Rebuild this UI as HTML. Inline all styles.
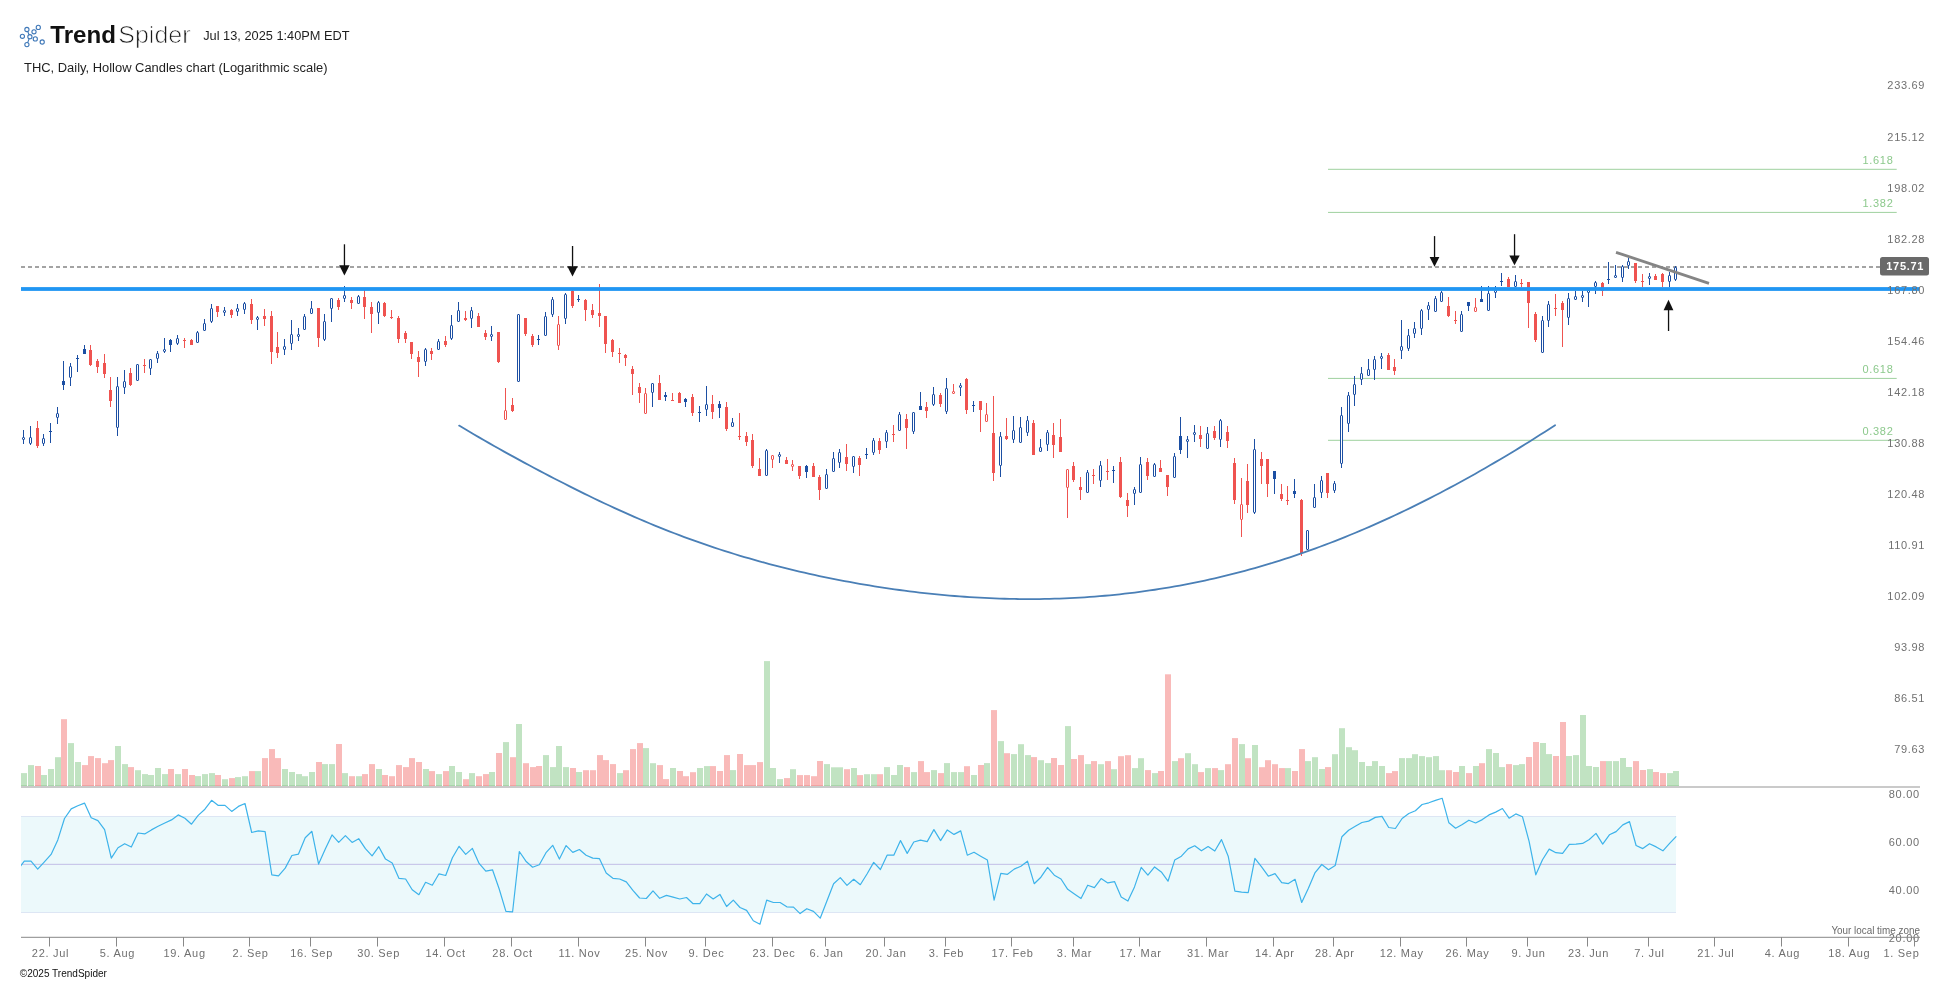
<!DOCTYPE html>
<html><head><meta charset="utf-8"><title>THC Daily - TrendSpider</title>
<style>html,body{margin:0;padding:0;background:#fff;width:1950px;height:983px;overflow:hidden}svg{display:block;will-change:transform}</style>
</head><body><svg width="1950" height="983" viewBox="0 0 1950 983" font-family='"Liberation Sans", sans-serif'><rect x="1328" y="168.8" width="568.7" height="1" fill="#9fd19f"/><rect x="1328" y="211.9" width="568.7" height="1" fill="#9fd19f"/><rect x="1328" y="377.9" width="568.7" height="1" fill="#9fd19f"/><rect x="1328" y="439.8" width="568.7" height="1" fill="#9fd19f"/><line x1="21" y1="267" x2="1880" y2="267" stroke="#a3a3a3" stroke-width="2" stroke-dasharray="4 3"/><rect x="23" y="430" width="1" height="14" fill="#1c4fa3"/><rect x="22.5" y="437.5" width="2" height="2" fill="#fff" stroke="#1c4fa3" stroke-width="1" rx="0.5"/><rect x="30" y="426" width="1" height="19" fill="#1c4fa3"/><rect x="29.5" y="437.5" width="2" height="6" fill="#fff" stroke="#1c4fa3" stroke-width="1" rx="0.5"/><rect x="37" y="421" width="1" height="27" fill="#ef5350"/><rect x="36" y="428" width="3" height="18" fill="#ef5350"/><rect x="43" y="434" width="1" height="12" fill="#1c4fa3"/><rect x="42.5" y="438.5" width="2" height="5" fill="#fff" stroke="#1c4fa3" stroke-width="1" rx="0.5"/><rect x="50" y="423" width="1" height="20" fill="#1c4fa3"/><rect x="49" y="431" width="3" height="1" fill="#1c4fa3"/><rect x="57" y="407" width="1" height="17" fill="#1c4fa3"/><rect x="56.5" y="413.5" width="2" height="4" fill="#fff" stroke="#1c4fa3" stroke-width="1" rx="0.5"/><rect x="63" y="361" width="1" height="29" fill="#1c4fa3"/><rect x="62" y="381" width="3" height="4" fill="#1c4fa3"/><rect x="70" y="363" width="1" height="23" fill="#1c4fa3"/><rect x="69.5" y="366.5" width="2" height="11" fill="#fff" stroke="#1c4fa3" stroke-width="1" rx="0.5"/><rect x="77" y="355" width="1" height="17" fill="#1c4fa3"/><rect x="76" y="358" width="3" height="1" fill="#1c4fa3"/><rect x="84" y="345" width="1" height="9" fill="#1c4fa3"/><rect x="83" y="349" width="3" height="5" fill="#1c4fa3"/><rect x="90" y="345" width="1" height="21" fill="#ef5350"/><rect x="89" y="350" width="3" height="15" fill="#ef5350"/><rect x="97" y="359" width="1" height="14" fill="#ef5350"/><rect x="96" y="361" width="3" height="6" fill="#ef5350"/><rect x="104" y="354" width="1" height="24" fill="#ef5350"/><rect x="103" y="363" width="3" height="11" fill="#ef5350"/><rect x="110" y="377" width="1" height="30" fill="#ef5350"/><rect x="109" y="390" width="3" height="11" fill="#ef5350"/><rect x="117" y="377" width="1" height="59" fill="#1c4fa3"/><rect x="116.5" y="386.5" width="2" height="41" fill="#fff" stroke="#1c4fa3" stroke-width="1" rx="0.5"/><rect x="124" y="370" width="1" height="24" fill="#1c4fa3"/><rect x="123.5" y="381.5" width="2" height="6" fill="#fff" stroke="#1c4fa3" stroke-width="1" rx="0.5"/><rect x="130" y="368" width="1" height="18" fill="#ef5350"/><rect x="129" y="373" width="3" height="12" fill="#ef5350"/><rect x="137" y="364" width="1" height="17" fill="#1c4fa3"/><rect x="136.5" y="364.5" width="2" height="16" fill="#fff" stroke="#1c4fa3" stroke-width="1" rx="0.5"/><rect x="144" y="359" width="1" height="14" fill="#ef5350"/><rect x="143" y="365" width="3" height="1" fill="#ef5350"/><rect x="150" y="359" width="1" height="16" fill="#1c4fa3"/><rect x="149.5" y="359.5" width="2" height="9" fill="#fff" stroke="#1c4fa3" stroke-width="1" rx="0.5"/><rect x="157" y="351" width="1" height="12" fill="#1c4fa3"/><rect x="156.5" y="353.5" width="2" height="5" fill="#fff" stroke="#1c4fa3" stroke-width="1" rx="0.5"/><rect x="164" y="338" width="1" height="15" fill="#1c4fa3"/><rect x="163.5" y="349.5" width="2" height="2" fill="#fff" stroke="#1c4fa3" stroke-width="1" rx="0.5"/><rect x="170" y="339" width="1" height="13" fill="#1c4fa3"/><rect x="169" y="340" width="3" height="5" fill="#1c4fa3"/><rect x="177" y="335" width="1" height="10" fill="#1c4fa3"/><rect x="176.5" y="338.5" width="2" height="5" fill="#fff" stroke="#1c4fa3" stroke-width="1" rx="0.5"/><rect x="184" y="338" width="1" height="10" fill="#ef5350"/><rect x="183" y="340" width="3" height="1" fill="#ef5350"/><rect x="191" y="339" width="1" height="6" fill="#ef5350"/><rect x="190" y="340" width="3" height="5" fill="#ef5350"/><rect x="197" y="331" width="1" height="12" fill="#1c4fa3"/><rect x="196.5" y="332.5" width="2" height="10" fill="#fff" stroke="#1c4fa3" stroke-width="1" rx="0.5"/><rect x="204" y="319" width="1" height="12" fill="#1c4fa3"/><rect x="203.5" y="323.5" width="2" height="7" fill="#fff" stroke="#1c4fa3" stroke-width="1" rx="0.5"/><rect x="211" y="304" width="1" height="19" fill="#1c4fa3"/><rect x="210.5" y="308.5" width="2" height="13" fill="#fff" stroke="#1c4fa3" stroke-width="1" rx="0.5"/><rect x="217" y="306" width="1" height="11" fill="#ef5350"/><rect x="216" y="306" width="3" height="6" fill="#ef5350"/><rect x="224" y="307" width="1" height="9" fill="#1c4fa3"/><rect x="223.5" y="310.5" width="2" height="2" fill="#fff" stroke="#1c4fa3" stroke-width="1" rx="0.5"/><rect x="231" y="309" width="1" height="9" fill="#ef5350"/><rect x="230" y="310" width="3" height="5" fill="#ef5350"/><rect x="237" y="304" width="1" height="12" fill="#1c4fa3"/><rect x="236.5" y="308.5" width="2" height="3" fill="#fff" stroke="#1c4fa3" stroke-width="1" rx="0.5"/><rect x="244" y="302" width="1" height="12" fill="#1c4fa3"/><rect x="243.5" y="303.5" width="2" height="6" fill="#fff" stroke="#1c4fa3" stroke-width="1" rx="0.5"/><rect x="251" y="299" width="1" height="25" fill="#ef5350"/><rect x="250" y="304" width="3" height="16" fill="#ef5350"/><rect x="257" y="316" width="1" height="14" fill="#1c4fa3"/><rect x="256.5" y="317.5" width="2" height="2" fill="#fff" stroke="#1c4fa3" stroke-width="1" rx="0.5"/><rect x="264" y="309" width="1" height="17" fill="#ef5350"/><rect x="263" y="316" width="3" height="3" fill="#ef5350"/><rect x="271" y="311" width="1" height="53" fill="#ef5350"/><rect x="270" y="316" width="3" height="36" fill="#ef5350"/><rect x="277" y="332" width="1" height="26" fill="#ef5350"/><rect x="276" y="347" width="3" height="6" fill="#ef5350"/><rect x="284" y="339" width="1" height="16" fill="#1c4fa3"/><rect x="283.5" y="346.5" width="2" height="3" fill="#fff" stroke="#1c4fa3" stroke-width="1" rx="0.5"/><rect x="291" y="320" width="1" height="30" fill="#1c4fa3"/><rect x="290.5" y="334.5" width="2" height="9" fill="#fff" stroke="#1c4fa3" stroke-width="1" rx="0.5"/><rect x="298" y="328" width="1" height="13" fill="#1c4fa3"/><rect x="297.5" y="334.5" width="2" height="2" fill="#fff" stroke="#1c4fa3" stroke-width="1" rx="0.5"/><rect x="304" y="314" width="1" height="16" fill="#1c4fa3"/><rect x="303.5" y="316.5" width="2" height="13" fill="#fff" stroke="#1c4fa3" stroke-width="1" rx="0.5"/><rect x="311" y="301" width="1" height="13" fill="#1c4fa3"/><rect x="310.5" y="308.5" width="2" height="5" fill="#fff" stroke="#1c4fa3" stroke-width="1" rx="0.5"/><rect x="318" y="308" width="1" height="39" fill="#ef5350"/><rect x="317" y="308" width="3" height="30" fill="#ef5350"/><rect x="324" y="314" width="1" height="27" fill="#1c4fa3"/><rect x="323.5" y="321.5" width="2" height="18" fill="#fff" stroke="#1c4fa3" stroke-width="1" rx="0.5"/><rect x="331" y="298" width="1" height="24" fill="#1c4fa3"/><rect x="330.5" y="298.5" width="2" height="10" fill="#fff" stroke="#1c4fa3" stroke-width="1" rx="0.5"/><rect x="338" y="298" width="1" height="12" fill="#ef5350"/><rect x="337" y="300" width="3" height="7" fill="#ef5350"/><rect x="344" y="286" width="1" height="16" fill="#1c4fa3"/><rect x="343.5" y="295.5" width="2" height="3" fill="#fff" stroke="#1c4fa3" stroke-width="1" rx="0.5"/><rect x="351" y="297" width="1" height="12" fill="#ef5350"/><rect x="350" y="300" width="3" height="3" fill="#ef5350"/><rect x="358" y="295" width="1" height="9" fill="#1c4fa3"/><rect x="357.5" y="296.5" width="2" height="7" fill="#fff" stroke="#1c4fa3" stroke-width="1" rx="0.5"/><rect x="364" y="290" width="1" height="29" fill="#ef5350"/><rect x="363" y="297" width="3" height="10" fill="#ef5350"/><rect x="371" y="302" width="1" height="31" fill="#ef5350"/><rect x="370" y="307" width="3" height="7" fill="#ef5350"/><rect x="378" y="301" width="1" height="23" fill="#1c4fa3"/><rect x="377.5" y="302.5" width="2" height="10" fill="#fff" stroke="#1c4fa3" stroke-width="1" rx="0.5"/><rect x="384" y="302" width="1" height="15" fill="#ef5350"/><rect x="383" y="303" width="3" height="13" fill="#ef5350"/><rect x="391" y="310" width="1" height="9" fill="#ef5350"/><rect x="390" y="317" width="3" height="1" fill="#ef5350"/><rect x="398" y="316" width="1" height="27" fill="#ef5350"/><rect x="397" y="318" width="3" height="21" fill="#ef5350"/><rect x="405" y="331" width="1" height="12" fill="#ef5350"/><rect x="404" y="333" width="3" height="6" fill="#ef5350"/><rect x="411" y="342" width="1" height="17" fill="#ef5350"/><rect x="410" y="342" width="3" height="12" fill="#ef5350"/><rect x="418" y="351" width="1" height="26" fill="#ef5350"/><rect x="417" y="357" width="3" height="5" fill="#ef5350"/><rect x="425" y="348" width="1" height="18" fill="#1c4fa3"/><rect x="424.5" y="349.5" width="2" height="12" fill="#fff" stroke="#1c4fa3" stroke-width="1" rx="0.5"/><rect x="431" y="348" width="1" height="12" fill="#ef5350"/><rect x="430" y="351" width="3" height="3" fill="#ef5350"/><rect x="438" y="339" width="1" height="11" fill="#1c4fa3"/><rect x="437.5" y="341.5" width="2" height="8" fill="#fff" stroke="#1c4fa3" stroke-width="1" rx="0.5"/><rect x="445" y="336" width="1" height="11" fill="#ef5350"/><rect x="444" y="341" width="3" height="4" fill="#ef5350"/><rect x="451" y="315" width="1" height="25" fill="#1c4fa3"/><rect x="450.5" y="325.5" width="2" height="13" fill="#fff" stroke="#1c4fa3" stroke-width="1" rx="0.5"/><rect x="458" y="302" width="1" height="20" fill="#1c4fa3"/><rect x="457.5" y="310.5" width="2" height="11" fill="#fff" stroke="#1c4fa3" stroke-width="1" rx="0.5"/><rect x="465" y="311" width="1" height="10" fill="#ef5350"/><rect x="464" y="318" width="3" height="2" fill="#ef5350"/><rect x="471" y="307" width="1" height="21" fill="#1c4fa3"/><rect x="470.5" y="310.5" width="2" height="8" fill="#fff" stroke="#1c4fa3" stroke-width="1" rx="0.5"/><rect x="478" y="313" width="1" height="14" fill="#ef5350"/><rect x="477" y="316" width="3" height="11" fill="#ef5350"/><rect x="485" y="330" width="1" height="10" fill="#ef5350"/><rect x="484" y="333" width="3" height="4" fill="#ef5350"/><rect x="491" y="326" width="1" height="15" fill="#1c4fa3"/><rect x="490.5" y="334.5" width="2" height="2" fill="#fff" stroke="#1c4fa3" stroke-width="1" rx="0.5"/><rect x="498" y="332" width="1" height="31" fill="#ef5350"/><rect x="497" y="332" width="3" height="30" fill="#ef5350"/><rect x="505" y="388" width="1" height="32" fill="#ef5350"/><rect x="504.5" y="410.5" width="2" height="9" fill="#fff" stroke="#ef5350" stroke-width="1" rx="0.5"/><rect x="512" y="398" width="1" height="14" fill="#ef5350"/><rect x="511" y="405" width="3" height="6" fill="#ef5350"/><rect x="518" y="314" width="1" height="68" fill="#1c4fa3"/><rect x="517.5" y="314.5" width="2" height="67" fill="#fff" stroke="#1c4fa3" stroke-width="1" rx="0.5"/><rect x="525" y="318" width="1" height="18" fill="#ef5350"/><rect x="524" y="318" width="3" height="16" fill="#ef5350"/><rect x="532" y="334" width="1" height="13" fill="#ef5350"/><rect x="531" y="336" width="3" height="9" fill="#ef5350"/><rect x="538" y="335" width="1" height="10" fill="#1c4fa3"/><rect x="537" y="339" width="3" height="1" fill="#1c4fa3"/><rect x="545" y="312" width="1" height="24" fill="#1c4fa3"/><rect x="544.5" y="316.5" width="2" height="19" fill="#fff" stroke="#1c4fa3" stroke-width="1" rx="0.5"/><rect x="552" y="297" width="1" height="20" fill="#1c4fa3"/><rect x="551.5" y="299.5" width="2" height="15" fill="#fff" stroke="#1c4fa3" stroke-width="1" rx="0.5"/><rect x="558" y="316" width="1" height="34" fill="#ef5350"/><rect x="557.5" y="324.5" width="2" height="21" fill="#fff" stroke="#ef5350" stroke-width="1" rx="0.5"/><rect x="565" y="293" width="1" height="31" fill="#1c4fa3"/><rect x="564.5" y="294.5" width="2" height="24" fill="#fff" stroke="#1c4fa3" stroke-width="1" rx="0.5"/><rect x="572" y="289" width="1" height="19" fill="#ef5350"/><rect x="571" y="291" width="3" height="15" fill="#ef5350"/><rect x="578" y="295" width="1" height="7" fill="#1c4fa3"/><rect x="577" y="299" width="3" height="1" fill="#1c4fa3"/><rect x="585" y="299" width="1" height="22" fill="#ef5350"/><rect x="584" y="300" width="3" height="10" fill="#ef5350"/><rect x="592" y="304" width="1" height="14" fill="#ef5350"/><rect x="591" y="310" width="3" height="5" fill="#ef5350"/><rect x="599" y="284" width="1" height="43" fill="#ef5350"/><rect x="598" y="313" width="3" height="3" fill="#ef5350"/><rect x="605" y="316" width="1" height="37" fill="#ef5350"/><rect x="604" y="316" width="3" height="28" fill="#ef5350"/><rect x="612" y="339" width="1" height="18" fill="#ef5350"/><rect x="611" y="340" width="3" height="12" fill="#ef5350"/><rect x="619" y="348" width="1" height="15" fill="#ef5350"/><rect x="618" y="353" width="3" height="1" fill="#ef5350"/><rect x="625" y="354" width="1" height="12" fill="#ef5350"/><rect x="624" y="355" width="3" height="3" fill="#ef5350"/><rect x="632" y="366" width="1" height="29" fill="#ef5350"/><rect x="631" y="369" width="3" height="5" fill="#ef5350"/><rect x="639" y="383" width="1" height="20" fill="#ef5350"/><rect x="638" y="387" width="3" height="6" fill="#ef5350"/><rect x="645" y="388" width="1" height="26" fill="#ef5350"/><rect x="644.5" y="393.5" width="2" height="20" fill="#fff" stroke="#ef5350" stroke-width="1" rx="0.5"/><rect x="652" y="383" width="1" height="24" fill="#1c4fa3"/><rect x="651.5" y="383.5" width="2" height="9" fill="#fff" stroke="#1c4fa3" stroke-width="1" rx="0.5"/><rect x="659" y="375" width="1" height="25" fill="#ef5350"/><rect x="658" y="383" width="3" height="17" fill="#ef5350"/><rect x="665" y="392" width="1" height="9" fill="#1c4fa3"/><rect x="664" y="395" width="3" height="2" fill="#1c4fa3"/><rect x="672" y="393" width="1" height="8" fill="#ef5350"/><rect x="671" y="400" width="3" height="1" fill="#ef5350"/><rect x="679" y="392" width="1" height="11" fill="#ef5350"/><rect x="678" y="393" width="3" height="10" fill="#ef5350"/><rect x="685" y="398" width="1" height="9" fill="#1c4fa3"/><rect x="684" y="399" width="3" height="3" fill="#1c4fa3"/><rect x="692" y="394" width="1" height="22" fill="#ef5350"/><rect x="691" y="397" width="3" height="16" fill="#ef5350"/><rect x="699" y="406" width="1" height="16" fill="#1c4fa3"/><rect x="698" y="412" width="3" height="1" fill="#1c4fa3"/><rect x="706" y="386" width="1" height="30" fill="#1c4fa3"/><rect x="705.5" y="404.5" width="2" height="5" fill="#fff" stroke="#1c4fa3" stroke-width="1" rx="0.5"/><rect x="712" y="395" width="1" height="24" fill="#ef5350"/><rect x="711" y="404" width="3" height="8" fill="#ef5350"/><rect x="719" y="401" width="1" height="17" fill="#1c4fa3"/><rect x="718" y="404" width="3" height="4" fill="#1c4fa3"/><rect x="726" y="402" width="1" height="29" fill="#ef5350"/><rect x="725" y="407" width="3" height="22" fill="#ef5350"/><rect x="732" y="418" width="1" height="9" fill="#1c4fa3"/><rect x="731.5" y="422.5" width="2" height="4" fill="#fff" stroke="#1c4fa3" stroke-width="1" rx="0.5"/><rect x="739" y="413" width="1" height="27" fill="#ef5350"/><rect x="738" y="436" width="3" height="1" fill="#ef5350"/><rect x="746" y="432" width="1" height="14" fill="#ef5350"/><rect x="745" y="436" width="3" height="6" fill="#ef5350"/><rect x="752" y="434" width="1" height="34" fill="#ef5350"/><rect x="751" y="440" width="3" height="26" fill="#ef5350"/><rect x="759" y="458" width="1" height="18" fill="#ef5350"/><rect x="758" y="469" width="3" height="7" fill="#ef5350"/><rect x="766" y="449" width="1" height="27" fill="#1c4fa3"/><rect x="765.5" y="450.5" width="2" height="25" fill="#fff" stroke="#1c4fa3" stroke-width="1" rx="0.5"/><rect x="772" y="455" width="1" height="13" fill="#ef5350"/><rect x="771.5" y="455.5" width="2" height="4" fill="#fff" stroke="#ef5350" stroke-width="1" rx="0.5"/><rect x="779" y="452" width="1" height="11" fill="#1c4fa3"/><rect x="778.5" y="454.5" width="2" height="2" fill="#fff" stroke="#1c4fa3" stroke-width="1" rx="0.5"/><rect x="786" y="457" width="1" height="7" fill="#ef5350"/><rect x="785" y="460" width="3" height="4" fill="#ef5350"/><rect x="792" y="460" width="1" height="11" fill="#ef5350"/><rect x="791.5" y="464.5" width="2" height="2" fill="#fff" stroke="#ef5350" stroke-width="1" rx="0.5"/><rect x="799" y="466" width="1" height="13" fill="#ef5350"/><rect x="798" y="466" width="3" height="10" fill="#ef5350"/><rect x="806" y="465" width="1" height="13" fill="#1c4fa3"/><rect x="805" y="466" width="3" height="6" fill="#1c4fa3"/><rect x="813" y="463" width="1" height="14" fill="#ef5350"/><rect x="812" y="466" width="3" height="11" fill="#ef5350"/><rect x="819" y="475" width="1" height="25" fill="#ef5350"/><rect x="818" y="477" width="3" height="13" fill="#ef5350"/><rect x="826" y="469" width="1" height="20" fill="#1c4fa3"/><rect x="825.5" y="474.5" width="2" height="14" fill="#fff" stroke="#1c4fa3" stroke-width="1" rx="0.5"/><rect x="833" y="452" width="1" height="20" fill="#1c4fa3"/><rect x="832.5" y="458.5" width="2" height="13" fill="#fff" stroke="#1c4fa3" stroke-width="1" rx="0.5"/><rect x="839" y="449" width="1" height="19" fill="#1c4fa3"/><rect x="838.5" y="452.5" width="2" height="10" fill="#fff" stroke="#1c4fa3" stroke-width="1" rx="0.5"/><rect x="846" y="444" width="1" height="27" fill="#ef5350"/><rect x="845" y="457" width="3" height="7" fill="#ef5350"/><rect x="853" y="456" width="1" height="17" fill="#1c4fa3"/><rect x="852.5" y="456.5" width="2" height="10" fill="#fff" stroke="#1c4fa3" stroke-width="1" rx="0.5"/><rect x="859" y="456" width="1" height="20" fill="#ef5350"/><rect x="858" y="458" width="3" height="7" fill="#ef5350"/><rect x="866" y="448" width="1" height="11" fill="#1c4fa3"/><rect x="865" y="454" width="3" height="1" fill="#1c4fa3"/><rect x="873" y="438" width="1" height="17" fill="#1c4fa3"/><rect x="872.5" y="440.5" width="2" height="12" fill="#fff" stroke="#1c4fa3" stroke-width="1" rx="0.5"/><rect x="879" y="438" width="1" height="16" fill="#ef5350"/><rect x="878" y="441" width="3" height="9" fill="#ef5350"/><rect x="886" y="430" width="1" height="18" fill="#1c4fa3"/><rect x="885.5" y="432.5" width="2" height="9" fill="#fff" stroke="#1c4fa3" stroke-width="1" rx="0.5"/><rect x="893" y="425" width="1" height="17" fill="#ef5350"/><rect x="892" y="434" width="3" height="1" fill="#ef5350"/><rect x="899" y="412" width="1" height="19" fill="#1c4fa3"/><rect x="898.5" y="414.5" width="2" height="16" fill="#fff" stroke="#1c4fa3" stroke-width="1" rx="0.5"/><rect x="906" y="414" width="1" height="35" fill="#ef5350"/><rect x="905" y="419" width="3" height="9" fill="#ef5350"/><rect x="913" y="412" width="1" height="22" fill="#1c4fa3"/><rect x="912.5" y="412.5" width="2" height="19" fill="#fff" stroke="#1c4fa3" stroke-width="1" rx="0.5"/><rect x="920" y="392" width="1" height="18" fill="#1c4fa3"/><rect x="919" y="406" width="3" height="4" fill="#1c4fa3"/><rect x="926" y="402" width="1" height="16" fill="#ef5350"/><rect x="925" y="407" width="3" height="4" fill="#ef5350"/><rect x="933" y="387" width="1" height="19" fill="#1c4fa3"/><rect x="932.5" y="394.5" width="2" height="10" fill="#fff" stroke="#1c4fa3" stroke-width="1" rx="0.5"/><rect x="940" y="393" width="1" height="14" fill="#ef5350"/><rect x="939" y="395" width="3" height="9" fill="#ef5350"/><rect x="946" y="378" width="1" height="36" fill="#1c4fa3"/><rect x="945.5" y="388.5" width="2" height="23" fill="#fff" stroke="#1c4fa3" stroke-width="1" rx="0.5"/><rect x="953" y="384" width="1" height="9" fill="#ef5350"/><rect x="952.5" y="391.5" width="2" height="2" fill="#fff" stroke="#ef5350" stroke-width="1" rx="0.5"/><rect x="960" y="383" width="1" height="13" fill="#1c4fa3"/><rect x="959.5" y="385.5" width="2" height="2" fill="#fff" stroke="#1c4fa3" stroke-width="1" rx="0.5"/><rect x="966" y="378" width="1" height="36" fill="#ef5350"/><rect x="965" y="379" width="3" height="31" fill="#ef5350"/><rect x="973" y="401" width="1" height="11" fill="#1c4fa3"/><rect x="972" y="405" width="3" height="1" fill="#1c4fa3"/><rect x="980" y="401" width="1" height="31" fill="#ef5350"/><rect x="979" y="401" width="3" height="9" fill="#ef5350"/><rect x="986" y="403" width="1" height="19" fill="#ef5350"/><rect x="985.5" y="414.5" width="2" height="7" fill="#fff" stroke="#ef5350" stroke-width="1" rx="0.5"/><rect x="993" y="396" width="1" height="85" fill="#ef5350"/><rect x="992" y="433" width="3" height="40" fill="#ef5350"/><rect x="1000" y="432" width="1" height="45" fill="#1c4fa3"/><rect x="999.5" y="436.5" width="2" height="29" fill="#fff" stroke="#1c4fa3" stroke-width="1" rx="0.5"/><rect x="1006" y="418" width="1" height="22" fill="#ef5350"/><rect x="1005" y="436" width="3" height="3" fill="#ef5350"/><rect x="1013" y="416" width="1" height="27" fill="#1c4fa3"/><rect x="1012.5" y="430.5" width="2" height="9" fill="#fff" stroke="#1c4fa3" stroke-width="1" rx="0.5"/><rect x="1020" y="417" width="1" height="26" fill="#1c4fa3"/><rect x="1019.5" y="427.5" width="2" height="15" fill="#fff" stroke="#1c4fa3" stroke-width="1" rx="0.5"/><rect x="1027" y="416" width="1" height="20" fill="#1c4fa3"/><rect x="1026.5" y="420.5" width="2" height="12" fill="#fff" stroke="#1c4fa3" stroke-width="1" rx="0.5"/><rect x="1033" y="420" width="1" height="35" fill="#ef5350"/><rect x="1032" y="423" width="3" height="32" fill="#ef5350"/><rect x="1040" y="439" width="1" height="13" fill="#1c4fa3"/><rect x="1039.5" y="447.5" width="2" height="4" fill="#fff" stroke="#1c4fa3" stroke-width="1" rx="0.5"/><rect x="1047" y="430" width="1" height="21" fill="#1c4fa3"/><rect x="1046.5" y="432.5" width="2" height="12" fill="#fff" stroke="#1c4fa3" stroke-width="1" rx="0.5"/><rect x="1053" y="423" width="1" height="35" fill="#ef5350"/><rect x="1052" y="435" width="3" height="10" fill="#ef5350"/><rect x="1060" y="419" width="1" height="33" fill="#ef5350"/><rect x="1059" y="437" width="3" height="15" fill="#ef5350"/><rect x="1067" y="469" width="1" height="49" fill="#ef5350"/><rect x="1066.5" y="469.5" width="2" height="18" fill="#fff" stroke="#ef5350" stroke-width="1" rx="0.5"/><rect x="1073" y="462" width="1" height="20" fill="#ef5350"/><rect x="1072" y="466" width="3" height="14" fill="#ef5350"/><rect x="1080" y="477" width="1" height="23" fill="#ef5350"/><rect x="1079" y="487" width="3" height="3" fill="#ef5350"/><rect x="1087" y="470" width="1" height="23" fill="#1c4fa3"/><rect x="1086.5" y="472.5" width="2" height="20" fill="#fff" stroke="#1c4fa3" stroke-width="1" rx="0.5"/><rect x="1093" y="469" width="1" height="15" fill="#ef5350"/><rect x="1092" y="475" width="3" height="1" fill="#ef5350"/><rect x="1100" y="461" width="1" height="26" fill="#1c4fa3"/><rect x="1099.5" y="465.5" width="2" height="15" fill="#fff" stroke="#1c4fa3" stroke-width="1" rx="0.5"/><rect x="1107" y="459" width="1" height="21" fill="#ef5350"/><rect x="1106" y="471" width="3" height="1" fill="#ef5350"/><rect x="1113" y="466" width="1" height="17" fill="#1c4fa3"/><rect x="1112" y="470" width="3" height="1" fill="#1c4fa3"/><rect x="1120" y="457" width="1" height="41" fill="#ef5350"/><rect x="1119" y="462" width="3" height="35" fill="#ef5350"/><rect x="1127" y="493" width="1" height="24" fill="#ef5350"/><rect x="1126" y="500" width="3" height="6" fill="#ef5350"/><rect x="1134" y="487" width="1" height="18" fill="#1c4fa3"/><rect x="1133.5" y="489.5" width="2" height="4" fill="#fff" stroke="#1c4fa3" stroke-width="1" rx="0.5"/><rect x="1140" y="457" width="1" height="36" fill="#1c4fa3"/><rect x="1139.5" y="464.5" width="2" height="28" fill="#fff" stroke="#1c4fa3" stroke-width="1" rx="0.5"/><rect x="1147" y="458" width="1" height="22" fill="#ef5350"/><rect x="1146" y="462" width="3" height="14" fill="#ef5350"/><rect x="1154" y="463" width="1" height="14" fill="#1c4fa3"/><rect x="1153.5" y="464.5" width="2" height="12" fill="#fff" stroke="#1c4fa3" stroke-width="1" rx="0.5"/><rect x="1160" y="460" width="1" height="12" fill="#ef5350"/><rect x="1159" y="468" width="3" height="4" fill="#ef5350"/><rect x="1167" y="475" width="1" height="21" fill="#ef5350"/><rect x="1166" y="475" width="3" height="12" fill="#ef5350"/><rect x="1174" y="453" width="1" height="25" fill="#1c4fa3"/><rect x="1173.5" y="456.5" width="2" height="21" fill="#fff" stroke="#1c4fa3" stroke-width="1" rx="0.5"/><rect x="1180" y="417" width="1" height="37" fill="#1c4fa3"/><rect x="1179" y="436" width="3" height="14" fill="#1c4fa3"/><rect x="1187" y="436" width="1" height="22" fill="#1c4fa3"/><rect x="1186.5" y="439.5" width="2" height="2" fill="#fff" stroke="#1c4fa3" stroke-width="1" rx="0.5"/><rect x="1194" y="425" width="1" height="17" fill="#1c4fa3"/><rect x="1193.5" y="432.5" width="2" height="2" fill="#fff" stroke="#1c4fa3" stroke-width="1" rx="0.5"/><rect x="1200" y="426" width="1" height="21" fill="#ef5350"/><rect x="1199" y="435" width="3" height="4" fill="#ef5350"/><rect x="1207" y="427" width="1" height="22" fill="#1c4fa3"/><rect x="1206.5" y="433.5" width="2" height="15" fill="#fff" stroke="#1c4fa3" stroke-width="1" rx="0.5"/><rect x="1214" y="426" width="1" height="14" fill="#ef5350"/><rect x="1213" y="431" width="3" height="7" fill="#ef5350"/><rect x="1220" y="419" width="1" height="28" fill="#1c4fa3"/><rect x="1219.5" y="420.5" width="2" height="19" fill="#fff" stroke="#1c4fa3" stroke-width="1" rx="0.5"/><rect x="1227" y="426" width="1" height="22" fill="#ef5350"/><rect x="1226" y="432" width="3" height="9" fill="#ef5350"/><rect x="1234" y="458" width="1" height="46" fill="#ef5350"/><rect x="1233" y="463" width="3" height="37" fill="#ef5350"/><rect x="1241" y="478" width="1" height="59" fill="#ef5350"/><rect x="1240.5" y="504.5" width="2" height="15" fill="#fff" stroke="#ef5350" stroke-width="1" rx="0.5"/><rect x="1247" y="464" width="1" height="49" fill="#ef5350"/><rect x="1246" y="481" width="3" height="24" fill="#ef5350"/><rect x="1254" y="439" width="1" height="75" fill="#1c4fa3"/><rect x="1253.5" y="449.5" width="2" height="63" fill="#fff" stroke="#1c4fa3" stroke-width="1" rx="0.5"/><rect x="1261" y="452" width="1" height="32" fill="#ef5350"/><rect x="1260" y="459" width="3" height="7" fill="#ef5350"/><rect x="1267" y="459" width="1" height="38" fill="#ef5350"/><rect x="1266" y="459" width="3" height="25" fill="#ef5350"/><rect x="1274" y="471" width="1" height="23" fill="#1c4fa3"/><rect x="1273" y="471" width="3" height="8" fill="#1c4fa3"/><rect x="1281" y="484" width="1" height="17" fill="#ef5350"/><rect x="1280" y="494" width="3" height="5" fill="#ef5350"/><rect x="1287" y="486" width="1" height="19" fill="#ef5350"/><rect x="1286" y="500" width="3" height="1" fill="#ef5350"/><rect x="1294" y="479" width="1" height="19" fill="#1c4fa3"/><rect x="1293" y="491" width="3" height="3" fill="#1c4fa3"/><rect x="1301" y="499" width="1" height="57" fill="#ef5350"/><rect x="1300" y="500" width="3" height="53" fill="#ef5350"/><rect x="1307" y="530" width="1" height="20" fill="#1c4fa3"/><rect x="1306.5" y="530.5" width="2" height="19" fill="#fff" stroke="#1c4fa3" stroke-width="1" rx="0.5"/><rect x="1314" y="484" width="1" height="24" fill="#1c4fa3"/><rect x="1313.5" y="497.5" width="2" height="10" fill="#fff" stroke="#1c4fa3" stroke-width="1" rx="0.5"/><rect x="1321" y="476" width="1" height="22" fill="#1c4fa3"/><rect x="1320.5" y="480.5" width="2" height="12" fill="#fff" stroke="#1c4fa3" stroke-width="1" rx="0.5"/><rect x="1327" y="473" width="1" height="25" fill="#ef5350"/><rect x="1326" y="473" width="3" height="20" fill="#ef5350"/><rect x="1334" y="481" width="1" height="12" fill="#1c4fa3"/><rect x="1333.5" y="483.5" width="2" height="7" fill="#fff" stroke="#1c4fa3" stroke-width="1" rx="0.5"/><rect x="1341" y="407" width="1" height="61" fill="#1c4fa3"/><rect x="1340.5" y="415.5" width="2" height="48" fill="#fff" stroke="#1c4fa3" stroke-width="1" rx="0.5"/><rect x="1348" y="392" width="1" height="40" fill="#1c4fa3"/><rect x="1347.5" y="395.5" width="2" height="28" fill="#fff" stroke="#1c4fa3" stroke-width="1" rx="0.5"/><rect x="1354" y="376" width="1" height="30" fill="#1c4fa3"/><rect x="1353.5" y="384.5" width="2" height="10" fill="#fff" stroke="#1c4fa3" stroke-width="1" rx="0.5"/><rect x="1361" y="367" width="1" height="18" fill="#1c4fa3"/><rect x="1360.5" y="373.5" width="2" height="6" fill="#fff" stroke="#1c4fa3" stroke-width="1" rx="0.5"/><rect x="1368" y="359" width="1" height="17" fill="#1c4fa3"/><rect x="1367.5" y="369.5" width="2" height="6" fill="#fff" stroke="#1c4fa3" stroke-width="1" rx="0.5"/><rect x="1374" y="356" width="1" height="24" fill="#1c4fa3"/><rect x="1373.5" y="359.5" width="2" height="10" fill="#fff" stroke="#1c4fa3" stroke-width="1" rx="0.5"/><rect x="1381" y="353" width="1" height="16" fill="#1c4fa3"/><rect x="1380.5" y="356.5" width="2" height="2" fill="#fff" stroke="#1c4fa3" stroke-width="1" rx="0.5"/><rect x="1388" y="353" width="1" height="17" fill="#ef5350"/><rect x="1387" y="355" width="3" height="15" fill="#ef5350"/><rect x="1394" y="359" width="1" height="16" fill="#ef5350"/><rect x="1393" y="367" width="3" height="4" fill="#ef5350"/><rect x="1401" y="320" width="1" height="39" fill="#1c4fa3"/><rect x="1400.5" y="346.5" width="2" height="4" fill="#fff" stroke="#1c4fa3" stroke-width="1" rx="0.5"/><rect x="1408" y="329" width="1" height="22" fill="#1c4fa3"/><rect x="1407.5" y="335.5" width="2" height="13" fill="#fff" stroke="#1c4fa3" stroke-width="1" rx="0.5"/><rect x="1414" y="322" width="1" height="16" fill="#1c4fa3"/><rect x="1413.5" y="328.5" width="2" height="5" fill="#fff" stroke="#1c4fa3" stroke-width="1" rx="0.5"/><rect x="1421" y="309" width="1" height="26" fill="#1c4fa3"/><rect x="1420.5" y="310.5" width="2" height="18" fill="#fff" stroke="#1c4fa3" stroke-width="1" rx="0.5"/><rect x="1428" y="302" width="1" height="18" fill="#1c4fa3"/><rect x="1427.5" y="305.5" width="2" height="4" fill="#fff" stroke="#1c4fa3" stroke-width="1" rx="0.5"/><rect x="1435" y="296" width="1" height="16" fill="#1c4fa3"/><rect x="1434.5" y="298.5" width="2" height="13" fill="#fff" stroke="#1c4fa3" stroke-width="1" rx="0.5"/><rect x="1441" y="291" width="1" height="11" fill="#1c4fa3"/><rect x="1440.5" y="292.5" width="2" height="9" fill="#fff" stroke="#1c4fa3" stroke-width="1" rx="0.5"/><rect x="1448" y="297" width="1" height="20" fill="#ef5350"/><rect x="1447" y="306" width="3" height="10" fill="#ef5350"/><rect x="1455" y="311" width="1" height="13" fill="#ef5350"/><rect x="1454" y="320" width="3" height="1" fill="#ef5350"/><rect x="1461" y="311" width="1" height="21" fill="#1c4fa3"/><rect x="1460.5" y="314.5" width="2" height="17" fill="#fff" stroke="#1c4fa3" stroke-width="1" rx="0.5"/><rect x="1468" y="302" width="1" height="9" fill="#1c4fa3"/><rect x="1467" y="302" width="3" height="4" fill="#1c4fa3"/><rect x="1475" y="298" width="1" height="14" fill="#ef5350"/><rect x="1474.5" y="307.5" width="2" height="4" fill="#fff" stroke="#ef5350" stroke-width="1" rx="0.5"/><rect x="1481" y="286" width="1" height="16" fill="#1c4fa3"/><rect x="1480" y="299" width="3" height="3" fill="#1c4fa3"/><rect x="1488" y="286" width="1" height="25" fill="#1c4fa3"/><rect x="1487.5" y="293.5" width="2" height="17" fill="#fff" stroke="#1c4fa3" stroke-width="1" rx="0.5"/><rect x="1495" y="286" width="1" height="12" fill="#1c4fa3"/><rect x="1494.5" y="290.5" width="2" height="2" fill="#fff" stroke="#1c4fa3" stroke-width="1" rx="0.5"/><rect x="1501" y="273" width="1" height="13" fill="#1c4fa3"/><rect x="1500" y="281" width="3" height="1" fill="#1c4fa3"/><rect x="1508" y="277" width="1" height="10" fill="#ef5350"/><rect x="1507" y="279" width="3" height="8" fill="#ef5350"/><rect x="1515" y="275" width="1" height="12" fill="#1c4fa3"/><rect x="1514.5" y="281.5" width="2" height="5" fill="#fff" stroke="#1c4fa3" stroke-width="1" rx="0.5"/><rect x="1521" y="279" width="1" height="8" fill="#ef5350"/><rect x="1520" y="283" width="3" height="1" fill="#ef5350"/><rect x="1528" y="282" width="1" height="46" fill="#ef5350"/><rect x="1527" y="282" width="3" height="21" fill="#ef5350"/><rect x="1535" y="312" width="1" height="30" fill="#ef5350"/><rect x="1534" y="314" width="3" height="26" fill="#ef5350"/><rect x="1542" y="316" width="1" height="37" fill="#1c4fa3"/><rect x="1541.5" y="320.5" width="2" height="32" fill="#fff" stroke="#1c4fa3" stroke-width="1" rx="0.5"/><rect x="1548" y="301" width="1" height="26" fill="#1c4fa3"/><rect x="1547.5" y="304.5" width="2" height="16" fill="#fff" stroke="#1c4fa3" stroke-width="1" rx="0.5"/><rect x="1555" y="294" width="1" height="22" fill="#ef5350"/><rect x="1554" y="308" width="3" height="1" fill="#ef5350"/><rect x="1562" y="301" width="1" height="46" fill="#ef5350"/><rect x="1561" y="303" width="3" height="7" fill="#ef5350"/><rect x="1568" y="293" width="1" height="32" fill="#1c4fa3"/><rect x="1567.5" y="298.5" width="2" height="19" fill="#fff" stroke="#1c4fa3" stroke-width="1" rx="0.5"/><rect x="1575" y="291" width="1" height="9" fill="#1c4fa3"/><rect x="1574.5" y="296.5" width="2" height="3" fill="#fff" stroke="#1c4fa3" stroke-width="1" rx="0.5"/><rect x="1582" y="291" width="1" height="11" fill="#1c4fa3"/><rect x="1581.5" y="295.5" width="2" height="2" fill="#fff" stroke="#1c4fa3" stroke-width="1" rx="0.5"/><rect x="1588" y="289" width="1" height="18" fill="#1c4fa3"/><rect x="1587.5" y="290.5" width="2" height="2" fill="#fff" stroke="#1c4fa3" stroke-width="1" rx="0.5"/><rect x="1595" y="281" width="1" height="13" fill="#1c4fa3"/><rect x="1594.5" y="282.5" width="2" height="4" fill="#fff" stroke="#1c4fa3" stroke-width="1" rx="0.5"/><rect x="1602" y="282" width="1" height="14" fill="#ef5350"/><rect x="1601" y="283" width="3" height="8" fill="#ef5350"/><rect x="1608" y="262" width="1" height="22" fill="#1c4fa3"/><rect x="1607" y="279" width="3" height="1" fill="#1c4fa3"/><rect x="1615" y="265" width="1" height="13" fill="#1c4fa3"/><rect x="1614.5" y="275.5" width="2" height="2" fill="#fff" stroke="#1c4fa3" stroke-width="1" rx="0.5"/><rect x="1622" y="265" width="1" height="17" fill="#1c4fa3"/><rect x="1621.5" y="266.5" width="2" height="11" fill="#fff" stroke="#1c4fa3" stroke-width="1" rx="0.5"/><rect x="1628" y="258" width="1" height="11" fill="#1c4fa3"/><rect x="1627.5" y="261.5" width="2" height="4" fill="#fff" stroke="#1c4fa3" stroke-width="1" rx="0.5"/><rect x="1635" y="263" width="1" height="20" fill="#ef5350"/><rect x="1634" y="263" width="3" height="18" fill="#ef5350"/><rect x="1642" y="274" width="1" height="13" fill="#ef5350"/><rect x="1641" y="281" width="3" height="1" fill="#ef5350"/><rect x="1649" y="273" width="1" height="12" fill="#1c4fa3"/><rect x="1648.5" y="276.5" width="2" height="2" fill="#fff" stroke="#1c4fa3" stroke-width="1" rx="0.5"/><rect x="1655" y="274" width="1" height="6" fill="#ef5350"/><rect x="1654" y="276" width="3" height="4" fill="#ef5350"/><rect x="1662" y="273" width="1" height="14" fill="#ef5350"/><rect x="1661" y="274" width="3" height="8" fill="#ef5350"/><rect x="1669" y="272" width="1" height="15" fill="#1c4fa3"/><rect x="1668.5" y="275.5" width="2" height="6" fill="#fff" stroke="#1c4fa3" stroke-width="1" rx="0.5"/><rect x="1675" y="266" width="1" height="15" fill="#1c4fa3"/><rect x="1674.5" y="267.5" width="2" height="12" fill="#fff" stroke="#1c4fa3" stroke-width="1" rx="0.5"/><polyline points="459.1,425.60 464.1,428.58 469.1,431.54 474.1,434.48 479.1,437.39 484.1,440.28 489.1,443.15 494.1,445.99 499.1,448.81 504.1,451.61 509.1,454.39 514.2,457.14 519.2,459.88 524.2,462.59 529.2,465.28 534.2,467.95 539.2,470.60 544.2,473.24 549.2,475.85 554.2,478.44 559.2,481.01 564.2,483.57 569.2,486.10 574.2,488.62 579.2,491.11 584.2,493.57 589.2,496.02 594.2,498.44 599.2,500.84 604.2,503.21 609.2,505.55 614.2,507.87 619.2,510.16 624.3,512.42 629.3,514.65 634.3,516.85 639.3,519.02 644.3,521.16 649.3,523.26 654.3,525.33 659.3,527.37 664.3,529.37 669.3,531.34 674.3,533.28 679.3,535.18 684.3,537.05 689.3,538.89 694.3,540.70 699.3,542.47 704.3,544.21 709.3,545.92 714.3,547.60 719.3,549.24 724.3,550.86 729.3,552.44 734.4,554.00 739.4,555.52 744.4,557.02 749.4,558.48 754.4,559.92 759.4,561.33 764.4,562.71 769.4,564.06 774.4,565.38 779.4,566.67 784.4,567.94 789.4,569.18 794.4,570.39 799.4,571.57 804.4,572.73 809.4,573.86 814.4,574.97 819.4,576.05 824.4,577.10 829.4,578.13 834.4,579.13 839.4,580.11 844.5,581.06 849.5,581.99 854.5,582.90 859.5,583.78 864.5,584.64 869.5,585.48 874.5,586.29 879.5,587.08 884.5,587.84 889.5,588.58 894.5,589.30 899.5,590.00 904.5,590.67 909.5,591.31 914.5,591.93 919.5,592.53 924.5,593.10 929.5,593.65 934.5,594.17 939.5,594.67 944.5,595.14 949.5,595.58 954.6,596.00 959.6,596.40 964.6,596.77 969.6,597.11 974.6,597.42 979.6,597.71 984.6,597.97 989.6,598.21 994.6,598.41 999.6,598.59 1004.6,598.75 1009.6,598.87 1014.6,598.97 1019.6,599.04 1024.6,599.08 1029.6,599.09 1034.6,599.07 1039.6,599.03 1044.6,598.95 1049.6,598.85 1054.6,598.72 1059.6,598.56 1064.7,598.37 1069.7,598.15 1074.7,597.90 1079.7,597.61 1084.7,597.30 1089.7,596.96 1094.7,596.59 1099.7,596.19 1104.7,595.76 1109.7,595.30 1114.7,594.81 1119.7,594.28 1124.7,593.73 1129.7,593.14 1134.7,592.52 1139.7,591.88 1144.7,591.20 1149.7,590.48 1154.7,589.74 1159.7,588.97 1164.7,588.16 1169.7,587.32 1174.8,586.45 1179.8,585.55 1184.8,584.61 1189.8,583.65 1194.8,582.65 1199.8,581.61 1204.8,580.55 1209.8,579.45 1214.8,578.32 1219.8,577.15 1224.8,575.96 1229.8,574.73 1234.8,573.46 1239.8,572.16 1244.8,570.83 1249.8,569.47 1254.8,568.07 1259.8,566.63 1264.8,565.17 1269.8,563.66 1274.8,562.13 1279.8,560.56 1284.9,558.95 1289.9,557.31 1294.9,555.64 1299.9,553.93 1304.9,552.19 1309.9,550.42 1314.9,548.61 1319.9,546.77 1324.9,544.89 1329.9,542.99 1334.9,541.05 1339.9,539.07 1344.9,537.07 1349.9,535.03 1354.9,532.96 1359.9,530.86 1364.9,528.72 1369.9,526.56 1374.9,524.36 1379.9,522.13 1384.9,519.87 1389.9,517.57 1395.0,515.25 1400.0,512.89 1405.0,510.51 1410.0,508.09 1415.0,505.64 1420.0,503.16 1425.0,500.65 1430.0,498.11 1435.0,495.54 1440.0,492.94 1445.0,490.31 1450.0,487.65 1455.0,484.96 1460.0,482.25 1465.0,479.50 1470.0,476.72 1475.0,473.91 1480.0,471.08 1485.0,468.21 1490.0,465.32 1495.0,462.40 1500.0,459.45 1505.1,456.47 1510.1,453.47 1515.1,450.43 1520.1,447.37 1525.1,444.28 1530.1,441.16 1535.1,438.02 1540.1,434.84 1545.1,431.64 1550.1,428.42 1555.1,425.16" fill="none" stroke="#4a7fb6" stroke-width="1.8" stroke-linecap="round" stroke-linejoin="round"/><rect x="21" y="287.1" width="1898.5" height="3.8" fill="#2196f3"/><line x1="1616" y1="252.3" x2="1709" y2="283.3" stroke="#858585" stroke-width="2.8"/><rect x="343.8" y="244.3" width="1.3" height="21.9" fill="#111"/><polygon points="339.2,265.2 349.6,265.2 344.4,275.6" fill="#111"/><rect x="571.9" y="246.0" width="1.3" height="21.3" fill="#111"/><polygon points="567.3,266.3 577.7,266.3 572.5,276.6" fill="#111"/><rect x="1433.9" y="236.1" width="1.3" height="22.0" fill="#111"/><polygon points="1429.6,257.1 1439.4,257.1 1434.5,266.8" fill="#111"/><rect x="1513.9" y="234.2" width="1.3" height="22.3" fill="#111"/><polygon points="1509.3,255.5 1519.7,255.5 1514.5,265.3" fill="#111"/><rect x="1667.9" y="309" width="1.3" height="22" fill="#111"/><polygon points="1663.6,310.2 1673.4,310.2 1668.5,299.8" fill="#111"/><rect x="21.0" y="773.1" width="6" height="12.9" fill="#c1e3c2"/><rect x="21.0" y="785" width="6" height="1" fill="#a9d6aa"/><rect x="28.0" y="765.1" width="6" height="20.9" fill="#c1e3c2"/><rect x="28.0" y="785" width="6" height="1" fill="#a9d6aa"/><rect x="35.0" y="766.0" width="6" height="20.0" fill="#f9bab9"/><rect x="35.0" y="785" width="6" height="1" fill="#f2a3a2"/><rect x="41.0" y="775.0" width="6" height="11.0" fill="#c1e3c2"/><rect x="41.0" y="785" width="6" height="1" fill="#a9d6aa"/><rect x="48.0" y="769.0" width="6" height="17.0" fill="#c1e3c2"/><rect x="48.0" y="785" width="6" height="1" fill="#a9d6aa"/><rect x="55.0" y="757.2" width="6" height="28.8" fill="#c1e3c2"/><rect x="55.0" y="785" width="6" height="1" fill="#a9d6aa"/><rect x="61.0" y="719.2" width="6" height="66.8" fill="#f9bab9"/><rect x="61.0" y="785" width="6" height="1" fill="#f2a3a2"/><rect x="68.0" y="743.1" width="6" height="42.9" fill="#c1e3c2"/><rect x="68.0" y="785" width="6" height="1" fill="#a9d6aa"/><rect x="75.0" y="762.0" width="6" height="24.0" fill="#c1e3c2"/><rect x="75.0" y="785" width="6" height="1" fill="#a9d6aa"/><rect x="82.0" y="765.1" width="6" height="20.9" fill="#f9bab9"/><rect x="82.0" y="785" width="6" height="1" fill="#f2a3a2"/><rect x="88.0" y="756.1" width="6" height="29.9" fill="#f9bab9"/><rect x="88.0" y="785" width="6" height="1" fill="#f2a3a2"/><rect x="95.0" y="758.1" width="6" height="27.9" fill="#f9bab9"/><rect x="95.0" y="785" width="6" height="1" fill="#f2a3a2"/><rect x="102.0" y="763.2" width="6" height="22.8" fill="#f9bab9"/><rect x="102.0" y="785" width="6" height="1" fill="#f2a3a2"/><rect x="108.0" y="760.1" width="6" height="25.9" fill="#f9bab9"/><rect x="108.0" y="785" width="6" height="1" fill="#f2a3a2"/><rect x="115.0" y="746.0" width="6" height="40.0" fill="#c1e3c2"/><rect x="115.0" y="785" width="6" height="1" fill="#a9d6aa"/><rect x="122.0" y="764.1" width="6" height="21.9" fill="#c1e3c2"/><rect x="122.0" y="785" width="6" height="1" fill="#a9d6aa"/><rect x="128.0" y="767.1" width="6" height="18.9" fill="#f9bab9"/><rect x="128.0" y="785" width="6" height="1" fill="#f2a3a2"/><rect x="135.0" y="770.2" width="6" height="15.8" fill="#c1e3c2"/><rect x="135.0" y="785" width="6" height="1" fill="#a9d6aa"/><rect x="142.0" y="774.1" width="6" height="11.9" fill="#c1e3c2"/><rect x="142.0" y="785" width="6" height="1" fill="#a9d6aa"/><rect x="148.0" y="775.0" width="6" height="11.0" fill="#c1e3c2"/><rect x="148.0" y="785" width="6" height="1" fill="#a9d6aa"/><rect x="155.0" y="768.0" width="6" height="18.0" fill="#c1e3c2"/><rect x="155.0" y="785" width="6" height="1" fill="#a9d6aa"/><rect x="162.0" y="774.1" width="6" height="11.9" fill="#c1e3c2"/><rect x="162.0" y="785" width="6" height="1" fill="#a9d6aa"/><rect x="168.0" y="769.0" width="6" height="17.0" fill="#f9bab9"/><rect x="168.0" y="785" width="6" height="1" fill="#f2a3a2"/><rect x="175.0" y="774.1" width="6" height="11.9" fill="#c1e3c2"/><rect x="175.0" y="785" width="6" height="1" fill="#a9d6aa"/><rect x="182.0" y="769.0" width="6" height="17.0" fill="#f9bab9"/><rect x="182.0" y="785" width="6" height="1" fill="#f2a3a2"/><rect x="189.0" y="775.0" width="6" height="11.0" fill="#f9bab9"/><rect x="189.0" y="785" width="6" height="1" fill="#f2a3a2"/><rect x="195.0" y="776.1" width="6" height="9.9" fill="#c1e3c2"/><rect x="195.0" y="785" width="6" height="1" fill="#a9d6aa"/><rect x="202.0" y="774.1" width="6" height="11.9" fill="#c1e3c2"/><rect x="202.0" y="785" width="6" height="1" fill="#a9d6aa"/><rect x="209.0" y="773.1" width="6" height="12.9" fill="#c1e3c2"/><rect x="209.0" y="785" width="6" height="1" fill="#a9d6aa"/><rect x="215.0" y="775.0" width="6" height="11.0" fill="#f9bab9"/><rect x="215.0" y="785" width="6" height="1" fill="#f2a3a2"/><rect x="222.0" y="779.2" width="6" height="6.8" fill="#c1e3c2"/><rect x="222.0" y="785" width="6" height="1" fill="#a9d6aa"/><rect x="229.0" y="778.1" width="6" height="7.9" fill="#f9bab9"/><rect x="229.0" y="785" width="6" height="1" fill="#f2a3a2"/><rect x="235.0" y="777.1" width="6" height="8.9" fill="#c1e3c2"/><rect x="235.0" y="785" width="6" height="1" fill="#a9d6aa"/><rect x="242.0" y="776.2" width="6" height="9.8" fill="#c1e3c2"/><rect x="242.0" y="785" width="6" height="1" fill="#a9d6aa"/><rect x="249.0" y="771.1" width="6" height="14.9" fill="#f9bab9"/><rect x="249.0" y="785" width="6" height="1" fill="#f2a3a2"/><rect x="255.0" y="771.1" width="6" height="14.9" fill="#c1e3c2"/><rect x="255.0" y="785" width="6" height="1" fill="#a9d6aa"/><rect x="262.0" y="758.1" width="6" height="27.9" fill="#f9bab9"/><rect x="262.0" y="785" width="6" height="1" fill="#f2a3a2"/><rect x="269.0" y="749.1" width="6" height="36.9" fill="#f9bab9"/><rect x="269.0" y="785" width="6" height="1" fill="#f2a3a2"/><rect x="275.0" y="758.1" width="6" height="27.9" fill="#f9bab9"/><rect x="275.0" y="785" width="6" height="1" fill="#f2a3a2"/><rect x="282.0" y="769.0" width="6" height="17.0" fill="#c1e3c2"/><rect x="282.0" y="785" width="6" height="1" fill="#a9d6aa"/><rect x="289.0" y="772.0" width="6" height="14.0" fill="#c1e3c2"/><rect x="289.0" y="785" width="6" height="1" fill="#a9d6aa"/><rect x="296.0" y="774.1" width="6" height="11.9" fill="#c1e3c2"/><rect x="296.0" y="785" width="6" height="1" fill="#a9d6aa"/><rect x="302.0" y="776.2" width="6" height="9.8" fill="#c1e3c2"/><rect x="302.0" y="785" width="6" height="1" fill="#a9d6aa"/><rect x="309.0" y="772.0" width="6" height="14.0" fill="#c1e3c2"/><rect x="309.0" y="785" width="6" height="1" fill="#a9d6aa"/><rect x="316.0" y="762.0" width="6" height="24.0" fill="#f9bab9"/><rect x="316.0" y="785" width="6" height="1" fill="#f2a3a2"/><rect x="322.0" y="764.1" width="6" height="21.9" fill="#c1e3c2"/><rect x="322.0" y="785" width="6" height="1" fill="#a9d6aa"/><rect x="329.0" y="764.1" width="6" height="21.9" fill="#c1e3c2"/><rect x="329.0" y="785" width="6" height="1" fill="#a9d6aa"/><rect x="336.0" y="744.0" width="6" height="42.0" fill="#f9bab9"/><rect x="336.0" y="785" width="6" height="1" fill="#f2a3a2"/><rect x="342.0" y="773.1" width="6" height="12.9" fill="#c1e3c2"/><rect x="342.0" y="785" width="6" height="1" fill="#a9d6aa"/><rect x="349.0" y="776.2" width="6" height="9.8" fill="#f9bab9"/><rect x="349.0" y="785" width="6" height="1" fill="#f2a3a2"/><rect x="356.0" y="776.2" width="6" height="9.8" fill="#c1e3c2"/><rect x="356.0" y="785" width="6" height="1" fill="#a9d6aa"/><rect x="362.0" y="774.1" width="6" height="11.9" fill="#f9bab9"/><rect x="362.0" y="785" width="6" height="1" fill="#f2a3a2"/><rect x="369.0" y="764.1" width="6" height="21.9" fill="#f9bab9"/><rect x="369.0" y="785" width="6" height="1" fill="#f2a3a2"/><rect x="376.0" y="769.0" width="6" height="17.0" fill="#c1e3c2"/><rect x="376.0" y="785" width="6" height="1" fill="#a9d6aa"/><rect x="382.0" y="775.0" width="6" height="11.0" fill="#f9bab9"/><rect x="382.0" y="785" width="6" height="1" fill="#f2a3a2"/><rect x="389.0" y="776.2" width="6" height="9.8" fill="#f9bab9"/><rect x="389.0" y="785" width="6" height="1" fill="#f2a3a2"/><rect x="396.0" y="765.1" width="6" height="20.9" fill="#f9bab9"/><rect x="396.0" y="785" width="6" height="1" fill="#f2a3a2"/><rect x="403.0" y="767.1" width="6" height="18.9" fill="#f9bab9"/><rect x="403.0" y="785" width="6" height="1" fill="#f2a3a2"/><rect x="409.0" y="758.1" width="6" height="27.9" fill="#f9bab9"/><rect x="409.0" y="785" width="6" height="1" fill="#f2a3a2"/><rect x="416.0" y="762.0" width="6" height="24.0" fill="#f9bab9"/><rect x="416.0" y="785" width="6" height="1" fill="#f2a3a2"/><rect x="423.0" y="769.0" width="6" height="17.0" fill="#c1e3c2"/><rect x="423.0" y="785" width="6" height="1" fill="#a9d6aa"/><rect x="429.0" y="771.1" width="6" height="14.9" fill="#f9bab9"/><rect x="429.0" y="785" width="6" height="1" fill="#f2a3a2"/><rect x="436.0" y="774.1" width="6" height="11.9" fill="#c1e3c2"/><rect x="436.0" y="785" width="6" height="1" fill="#a9d6aa"/><rect x="443.0" y="771.1" width="6" height="14.9" fill="#f9bab9"/><rect x="443.0" y="785" width="6" height="1" fill="#f2a3a2"/><rect x="449.0" y="766.0" width="6" height="20.0" fill="#c1e3c2"/><rect x="449.0" y="785" width="6" height="1" fill="#a9d6aa"/><rect x="456.0" y="772.0" width="6" height="14.0" fill="#c1e3c2"/><rect x="456.0" y="785" width="6" height="1" fill="#a9d6aa"/><rect x="463.0" y="779.2" width="6" height="6.8" fill="#f9bab9"/><rect x="463.0" y="785" width="6" height="1" fill="#f2a3a2"/><rect x="469.0" y="773.1" width="6" height="12.9" fill="#c1e3c2"/><rect x="469.0" y="785" width="6" height="1" fill="#a9d6aa"/><rect x="476.0" y="776.2" width="6" height="9.8" fill="#f9bab9"/><rect x="476.0" y="785" width="6" height="1" fill="#f2a3a2"/><rect x="483.0" y="774.1" width="6" height="11.9" fill="#f9bab9"/><rect x="483.0" y="785" width="6" height="1" fill="#f2a3a2"/><rect x="489.0" y="772.0" width="6" height="14.0" fill="#c1e3c2"/><rect x="489.0" y="785" width="6" height="1" fill="#a9d6aa"/><rect x="496.0" y="753.0" width="6" height="33.0" fill="#f9bab9"/><rect x="496.0" y="785" width="6" height="1" fill="#f2a3a2"/><rect x="503.0" y="742.1" width="6" height="43.9" fill="#c1e3c2"/><rect x="503.0" y="785" width="6" height="1" fill="#a9d6aa"/><rect x="510.0" y="757.2" width="6" height="28.8" fill="#f9bab9"/><rect x="510.0" y="785" width="6" height="1" fill="#f2a3a2"/><rect x="516.0" y="724.0" width="6" height="62.0" fill="#c1e3c2"/><rect x="516.0" y="785" width="6" height="1" fill="#a9d6aa"/><rect x="523.0" y="763.2" width="6" height="22.8" fill="#f9bab9"/><rect x="523.0" y="785" width="6" height="1" fill="#f2a3a2"/><rect x="530.0" y="767.1" width="6" height="18.9" fill="#f9bab9"/><rect x="530.0" y="785" width="6" height="1" fill="#f2a3a2"/><rect x="536.0" y="766.0" width="6" height="20.0" fill="#f9bab9"/><rect x="536.0" y="785" width="6" height="1" fill="#f2a3a2"/><rect x="543.0" y="755.1" width="6" height="30.9" fill="#c1e3c2"/><rect x="543.0" y="785" width="6" height="1" fill="#a9d6aa"/><rect x="550.0" y="767.1" width="6" height="18.9" fill="#c1e3c2"/><rect x="550.0" y="785" width="6" height="1" fill="#a9d6aa"/><rect x="556.0" y="746.0" width="6" height="40.0" fill="#c1e3c2"/><rect x="556.0" y="785" width="6" height="1" fill="#a9d6aa"/><rect x="563.0" y="767.1" width="6" height="18.9" fill="#c1e3c2"/><rect x="563.0" y="785" width="6" height="1" fill="#a9d6aa"/><rect x="570.0" y="768.0" width="6" height="18.0" fill="#f9bab9"/><rect x="570.0" y="785" width="6" height="1" fill="#f2a3a2"/><rect x="576.0" y="772.0" width="6" height="14.0" fill="#c1e3c2"/><rect x="576.0" y="785" width="6" height="1" fill="#a9d6aa"/><rect x="583.0" y="770.2" width="6" height="15.8" fill="#f9bab9"/><rect x="583.0" y="785" width="6" height="1" fill="#f2a3a2"/><rect x="590.0" y="770.2" width="6" height="15.8" fill="#f9bab9"/><rect x="590.0" y="785" width="6" height="1" fill="#f2a3a2"/><rect x="597.0" y="755.1" width="6" height="30.9" fill="#f9bab9"/><rect x="597.0" y="785" width="6" height="1" fill="#f2a3a2"/><rect x="603.0" y="760.1" width="6" height="25.9" fill="#f9bab9"/><rect x="603.0" y="785" width="6" height="1" fill="#f2a3a2"/><rect x="610.0" y="764.1" width="6" height="21.9" fill="#f9bab9"/><rect x="610.0" y="785" width="6" height="1" fill="#f2a3a2"/><rect x="617.0" y="773.1" width="6" height="12.9" fill="#c1e3c2"/><rect x="617.0" y="785" width="6" height="1" fill="#a9d6aa"/><rect x="623.0" y="770.2" width="6" height="15.8" fill="#f9bab9"/><rect x="623.0" y="785" width="6" height="1" fill="#f2a3a2"/><rect x="630.0" y="749.1" width="6" height="36.9" fill="#f9bab9"/><rect x="630.0" y="785" width="6" height="1" fill="#f2a3a2"/><rect x="637.0" y="743.1" width="6" height="42.9" fill="#f9bab9"/><rect x="637.0" y="785" width="6" height="1" fill="#f2a3a2"/><rect x="643.0" y="748.1" width="6" height="37.9" fill="#c1e3c2"/><rect x="643.0" y="785" width="6" height="1" fill="#a9d6aa"/><rect x="650.0" y="763.2" width="6" height="22.8" fill="#c1e3c2"/><rect x="650.0" y="785" width="6" height="1" fill="#a9d6aa"/><rect x="657.0" y="765.1" width="6" height="20.9" fill="#f9bab9"/><rect x="657.0" y="785" width="6" height="1" fill="#f2a3a2"/><rect x="663.0" y="779.1" width="6" height="6.9" fill="#f9bab9"/><rect x="663.0" y="785" width="6" height="1" fill="#f2a3a2"/><rect x="670.0" y="768.0" width="6" height="18.0" fill="#c1e3c2"/><rect x="670.0" y="785" width="6" height="1" fill="#a9d6aa"/><rect x="677.0" y="771.0" width="6" height="15.0" fill="#f9bab9"/><rect x="677.0" y="785" width="6" height="1" fill="#f2a3a2"/><rect x="683.0" y="776.2" width="6" height="9.8" fill="#f9bab9"/><rect x="683.0" y="785" width="6" height="1" fill="#f2a3a2"/><rect x="690.0" y="772.2" width="6" height="13.8" fill="#f9bab9"/><rect x="690.0" y="785" width="6" height="1" fill="#f2a3a2"/><rect x="697.0" y="768.0" width="6" height="18.0" fill="#c1e3c2"/><rect x="697.0" y="785" width="6" height="1" fill="#a9d6aa"/><rect x="704.0" y="766.1" width="6" height="19.9" fill="#c1e3c2"/><rect x="704.0" y="785" width="6" height="1" fill="#a9d6aa"/><rect x="710.0" y="766.1" width="6" height="19.9" fill="#f9bab9"/><rect x="710.0" y="785" width="6" height="1" fill="#f2a3a2"/><rect x="717.0" y="771.0" width="6" height="15.0" fill="#f9bab9"/><rect x="717.0" y="785" width="6" height="1" fill="#f2a3a2"/><rect x="724.0" y="755.1" width="6" height="30.9" fill="#f9bab9"/><rect x="724.0" y="785" width="6" height="1" fill="#f2a3a2"/><rect x="730.0" y="770.1" width="6" height="15.9" fill="#c1e3c2"/><rect x="730.0" y="785" width="6" height="1" fill="#a9d6aa"/><rect x="737.0" y="754.0" width="6" height="32.0" fill="#f9bab9"/><rect x="737.0" y="785" width="6" height="1" fill="#f2a3a2"/><rect x="744.0" y="765.1" width="6" height="20.9" fill="#f9bab9"/><rect x="744.0" y="785" width="6" height="1" fill="#f2a3a2"/><rect x="750.0" y="765.1" width="6" height="20.9" fill="#f9bab9"/><rect x="750.0" y="785" width="6" height="1" fill="#f2a3a2"/><rect x="757.0" y="762.1" width="6" height="23.9" fill="#f9bab9"/><rect x="757.0" y="785" width="6" height="1" fill="#f2a3a2"/><rect x="764.0" y="661.1" width="6" height="124.9" fill="#c1e3c2"/><rect x="764.0" y="785" width="6" height="1" fill="#a9d6aa"/><rect x="770.0" y="768.0" width="6" height="18.0" fill="#c1e3c2"/><rect x="770.0" y="785" width="6" height="1" fill="#a9d6aa"/><rect x="777.0" y="779.1" width="6" height="6.9" fill="#c1e3c2"/><rect x="777.0" y="785" width="6" height="1" fill="#a9d6aa"/><rect x="784.0" y="778.1" width="6" height="7.9" fill="#f9bab9"/><rect x="784.0" y="785" width="6" height="1" fill="#f2a3a2"/><rect x="790.0" y="769.2" width="6" height="16.8" fill="#c1e3c2"/><rect x="790.0" y="785" width="6" height="1" fill="#a9d6aa"/><rect x="797.0" y="775.1" width="6" height="10.9" fill="#f9bab9"/><rect x="797.0" y="785" width="6" height="1" fill="#f2a3a2"/><rect x="804.0" y="775.1" width="6" height="10.9" fill="#f9bab9"/><rect x="804.0" y="785" width="6" height="1" fill="#f2a3a2"/><rect x="811.0" y="776.2" width="6" height="9.8" fill="#f9bab9"/><rect x="811.0" y="785" width="6" height="1" fill="#f2a3a2"/><rect x="817.0" y="761.0" width="6" height="25.0" fill="#f9bab9"/><rect x="817.0" y="785" width="6" height="1" fill="#f2a3a2"/><rect x="824.0" y="764.1" width="6" height="21.9" fill="#c1e3c2"/><rect x="824.0" y="785" width="6" height="1" fill="#a9d6aa"/><rect x="831.0" y="767.3" width="6" height="18.7" fill="#c1e3c2"/><rect x="831.0" y="785" width="6" height="1" fill="#a9d6aa"/><rect x="837.0" y="767.3" width="6" height="18.7" fill="#c1e3c2"/><rect x="837.0" y="785" width="6" height="1" fill="#a9d6aa"/><rect x="844.0" y="769.2" width="6" height="16.8" fill="#f9bab9"/><rect x="844.0" y="785" width="6" height="1" fill="#f2a3a2"/><rect x="851.0" y="768.0" width="6" height="18.0" fill="#c1e3c2"/><rect x="851.0" y="785" width="6" height="1" fill="#a9d6aa"/><rect x="857.0" y="775.1" width="6" height="10.9" fill="#f9bab9"/><rect x="857.0" y="785" width="6" height="1" fill="#f2a3a2"/><rect x="864.0" y="774.2" width="6" height="11.8" fill="#c1e3c2"/><rect x="864.0" y="785" width="6" height="1" fill="#a9d6aa"/><rect x="871.0" y="774.2" width="6" height="11.8" fill="#c1e3c2"/><rect x="871.0" y="785" width="6" height="1" fill="#a9d6aa"/><rect x="877.0" y="774.2" width="6" height="11.8" fill="#f9bab9"/><rect x="877.0" y="785" width="6" height="1" fill="#f2a3a2"/><rect x="884.0" y="767.1" width="6" height="18.9" fill="#c1e3c2"/><rect x="884.0" y="785" width="6" height="1" fill="#a9d6aa"/><rect x="891.0" y="775.0" width="6" height="11.0" fill="#c1e3c2"/><rect x="891.0" y="785" width="6" height="1" fill="#a9d6aa"/><rect x="897.0" y="765.0" width="6" height="21.0" fill="#c1e3c2"/><rect x="897.0" y="785" width="6" height="1" fill="#a9d6aa"/><rect x="904.0" y="767.1" width="6" height="18.9" fill="#f9bab9"/><rect x="904.0" y="785" width="6" height="1" fill="#f2a3a2"/><rect x="911.0" y="772.1" width="6" height="13.9" fill="#c1e3c2"/><rect x="911.0" y="785" width="6" height="1" fill="#a9d6aa"/><rect x="918.0" y="761.1" width="6" height="24.9" fill="#f9bab9"/><rect x="918.0" y="785" width="6" height="1" fill="#f2a3a2"/><rect x="924.0" y="772.1" width="6" height="13.9" fill="#f9bab9"/><rect x="924.0" y="785" width="6" height="1" fill="#f2a3a2"/><rect x="931.0" y="770.1" width="6" height="15.9" fill="#c1e3c2"/><rect x="931.0" y="785" width="6" height="1" fill="#a9d6aa"/><rect x="938.0" y="773.1" width="6" height="12.9" fill="#f9bab9"/><rect x="938.0" y="785" width="6" height="1" fill="#f2a3a2"/><rect x="944.0" y="763.1" width="6" height="22.9" fill="#c1e3c2"/><rect x="944.0" y="785" width="6" height="1" fill="#a9d6aa"/><rect x="951.0" y="772.1" width="6" height="13.9" fill="#c1e3c2"/><rect x="951.0" y="785" width="6" height="1" fill="#a9d6aa"/><rect x="958.0" y="772.1" width="6" height="13.9" fill="#c1e3c2"/><rect x="958.0" y="785" width="6" height="1" fill="#a9d6aa"/><rect x="964.0" y="766.2" width="6" height="19.8" fill="#f9bab9"/><rect x="964.0" y="785" width="6" height="1" fill="#f2a3a2"/><rect x="971.0" y="775.0" width="6" height="11.0" fill="#c1e3c2"/><rect x="971.0" y="785" width="6" height="1" fill="#a9d6aa"/><rect x="978.0" y="765.0" width="6" height="21.0" fill="#f9bab9"/><rect x="978.0" y="785" width="6" height="1" fill="#f2a3a2"/><rect x="984.0" y="763.1" width="6" height="22.9" fill="#c1e3c2"/><rect x="984.0" y="785" width="6" height="1" fill="#a9d6aa"/><rect x="991.0" y="710.1" width="6" height="75.9" fill="#f9bab9"/><rect x="991.0" y="785" width="6" height="1" fill="#f2a3a2"/><rect x="998.0" y="741.1" width="6" height="44.9" fill="#c1e3c2"/><rect x="998.0" y="785" width="6" height="1" fill="#a9d6aa"/><rect x="1004.0" y="753.2" width="6" height="32.8" fill="#f9bab9"/><rect x="1004.0" y="785" width="6" height="1" fill="#f2a3a2"/><rect x="1011.0" y="754.1" width="6" height="31.9" fill="#c1e3c2"/><rect x="1011.0" y="785" width="6" height="1" fill="#a9d6aa"/><rect x="1018.0" y="744.2" width="6" height="41.8" fill="#c1e3c2"/><rect x="1018.0" y="785" width="6" height="1" fill="#a9d6aa"/><rect x="1025.0" y="755.1" width="6" height="30.9" fill="#c1e3c2"/><rect x="1025.0" y="785" width="6" height="1" fill="#a9d6aa"/><rect x="1031.0" y="757.1" width="6" height="28.9" fill="#f9bab9"/><rect x="1031.0" y="785" width="6" height="1" fill="#f2a3a2"/><rect x="1038.0" y="760.2" width="6" height="25.8" fill="#c1e3c2"/><rect x="1038.0" y="785" width="6" height="1" fill="#a9d6aa"/><rect x="1045.0" y="763.1" width="6" height="22.9" fill="#c1e3c2"/><rect x="1045.0" y="785" width="6" height="1" fill="#a9d6aa"/><rect x="1051.0" y="758.0" width="6" height="28.0" fill="#f9bab9"/><rect x="1051.0" y="785" width="6" height="1" fill="#f2a3a2"/><rect x="1058.0" y="765.0" width="6" height="21.0" fill="#f9bab9"/><rect x="1058.0" y="785" width="6" height="1" fill="#f2a3a2"/><rect x="1065.0" y="726.1" width="6" height="59.9" fill="#c1e3c2"/><rect x="1065.0" y="785" width="6" height="1" fill="#a9d6aa"/><rect x="1071.0" y="759.0" width="6" height="27.0" fill="#f9bab9"/><rect x="1071.0" y="785" width="6" height="1" fill="#f2a3a2"/><rect x="1078.0" y="755.1" width="6" height="30.9" fill="#f9bab9"/><rect x="1078.0" y="785" width="6" height="1" fill="#f2a3a2"/><rect x="1085.0" y="764.1" width="6" height="21.9" fill="#c1e3c2"/><rect x="1085.0" y="785" width="6" height="1" fill="#a9d6aa"/><rect x="1091.0" y="761.1" width="6" height="24.9" fill="#f9bab9"/><rect x="1091.0" y="785" width="6" height="1" fill="#f2a3a2"/><rect x="1098.0" y="764.2" width="6" height="21.8" fill="#c1e3c2"/><rect x="1098.0" y="785" width="6" height="1" fill="#a9d6aa"/><rect x="1105.0" y="761.1" width="6" height="24.9" fill="#f9bab9"/><rect x="1105.0" y="785" width="6" height="1" fill="#f2a3a2"/><rect x="1111.0" y="769.2" width="6" height="16.8" fill="#c1e3c2"/><rect x="1111.0" y="785" width="6" height="1" fill="#a9d6aa"/><rect x="1118.0" y="756.2" width="6" height="29.8" fill="#f9bab9"/><rect x="1118.0" y="785" width="6" height="1" fill="#f2a3a2"/><rect x="1125.0" y="755.2" width="6" height="30.8" fill="#f9bab9"/><rect x="1125.0" y="785" width="6" height="1" fill="#f2a3a2"/><rect x="1132.0" y="768.1" width="6" height="17.9" fill="#c1e3c2"/><rect x="1132.0" y="785" width="6" height="1" fill="#a9d6aa"/><rect x="1138.0" y="758.2" width="6" height="27.8" fill="#c1e3c2"/><rect x="1138.0" y="785" width="6" height="1" fill="#a9d6aa"/><rect x="1145.0" y="770.1" width="6" height="15.9" fill="#f9bab9"/><rect x="1145.0" y="785" width="6" height="1" fill="#f2a3a2"/><rect x="1152.0" y="773.1" width="6" height="12.9" fill="#c1e3c2"/><rect x="1152.0" y="785" width="6" height="1" fill="#a9d6aa"/><rect x="1158.0" y="771.0" width="6" height="15.0" fill="#f9bab9"/><rect x="1158.0" y="785" width="6" height="1" fill="#f2a3a2"/><rect x="1165.0" y="674.3" width="6" height="111.7" fill="#f9bab9"/><rect x="1165.0" y="785" width="6" height="1" fill="#f2a3a2"/><rect x="1172.0" y="761.1" width="6" height="24.9" fill="#c1e3c2"/><rect x="1172.0" y="785" width="6" height="1" fill="#a9d6aa"/><rect x="1178.0" y="758.2" width="6" height="27.8" fill="#f9bab9"/><rect x="1178.0" y="785" width="6" height="1" fill="#f2a3a2"/><rect x="1185.0" y="753.2" width="6" height="32.8" fill="#c1e3c2"/><rect x="1185.0" y="785" width="6" height="1" fill="#a9d6aa"/><rect x="1192.0" y="764.2" width="6" height="21.8" fill="#c1e3c2"/><rect x="1192.0" y="785" width="6" height="1" fill="#a9d6aa"/><rect x="1198.0" y="772.1" width="6" height="13.9" fill="#f9bab9"/><rect x="1198.0" y="785" width="6" height="1" fill="#f2a3a2"/><rect x="1205.0" y="768.1" width="6" height="17.9" fill="#c1e3c2"/><rect x="1205.0" y="785" width="6" height="1" fill="#a9d6aa"/><rect x="1212.0" y="768.1" width="6" height="17.9" fill="#f9bab9"/><rect x="1212.0" y="785" width="6" height="1" fill="#f2a3a2"/><rect x="1218.0" y="770.1" width="6" height="15.9" fill="#c1e3c2"/><rect x="1218.0" y="785" width="6" height="1" fill="#a9d6aa"/><rect x="1225.0" y="764.2" width="6" height="21.8" fill="#f9bab9"/><rect x="1225.0" y="785" width="6" height="1" fill="#f2a3a2"/><rect x="1232.0" y="738.1" width="6" height="47.9" fill="#f9bab9"/><rect x="1232.0" y="785" width="6" height="1" fill="#f2a3a2"/><rect x="1239.0" y="744.1" width="6" height="41.9" fill="#c1e3c2"/><rect x="1239.0" y="785" width="6" height="1" fill="#a9d6aa"/><rect x="1245.0" y="758.2" width="6" height="27.8" fill="#f9bab9"/><rect x="1245.0" y="785" width="6" height="1" fill="#f2a3a2"/><rect x="1252.0" y="745.0" width="6" height="41.0" fill="#c1e3c2"/><rect x="1252.0" y="785" width="6" height="1" fill="#a9d6aa"/><rect x="1259.0" y="767.2" width="6" height="18.8" fill="#f9bab9"/><rect x="1259.0" y="785" width="6" height="1" fill="#f2a3a2"/><rect x="1265.0" y="760.2" width="6" height="25.8" fill="#f9bab9"/><rect x="1265.0" y="785" width="6" height="1" fill="#f2a3a2"/><rect x="1272.0" y="764.2" width="6" height="21.8" fill="#f9bab9"/><rect x="1272.0" y="785" width="6" height="1" fill="#f2a3a2"/><rect x="1279.0" y="768.1" width="6" height="17.9" fill="#f9bab9"/><rect x="1279.0" y="785" width="6" height="1" fill="#f2a3a2"/><rect x="1285.0" y="768.1" width="6" height="17.9" fill="#c1e3c2"/><rect x="1285.0" y="785" width="6" height="1" fill="#a9d6aa"/><rect x="1292.0" y="771.0" width="6" height="15.0" fill="#f9bab9"/><rect x="1292.0" y="785" width="6" height="1" fill="#f2a3a2"/><rect x="1299.0" y="749.1" width="6" height="36.9" fill="#f9bab9"/><rect x="1299.0" y="785" width="6" height="1" fill="#f2a3a2"/><rect x="1305.0" y="761.1" width="6" height="24.9" fill="#c1e3c2"/><rect x="1305.0" y="785" width="6" height="1" fill="#a9d6aa"/><rect x="1312.0" y="757.2" width="6" height="28.8" fill="#c1e3c2"/><rect x="1312.0" y="785" width="6" height="1" fill="#a9d6aa"/><rect x="1319.0" y="769.0" width="6" height="17.0" fill="#c1e3c2"/><rect x="1319.0" y="785" width="6" height="1" fill="#a9d6aa"/><rect x="1325.0" y="767.1" width="6" height="18.9" fill="#f9bab9"/><rect x="1325.0" y="785" width="6" height="1" fill="#f2a3a2"/><rect x="1332.0" y="754.2" width="6" height="31.8" fill="#c1e3c2"/><rect x="1332.0" y="785" width="6" height="1" fill="#a9d6aa"/><rect x="1339.0" y="728.2" width="6" height="57.8" fill="#c1e3c2"/><rect x="1339.0" y="785" width="6" height="1" fill="#a9d6aa"/><rect x="1346.0" y="747.2" width="6" height="38.8" fill="#c1e3c2"/><rect x="1346.0" y="785" width="6" height="1" fill="#a9d6aa"/><rect x="1352.0" y="750.2" width="6" height="35.8" fill="#c1e3c2"/><rect x="1352.0" y="785" width="6" height="1" fill="#a9d6aa"/><rect x="1359.0" y="762.0" width="6" height="24.0" fill="#c1e3c2"/><rect x="1359.0" y="785" width="6" height="1" fill="#a9d6aa"/><rect x="1366.0" y="766.0" width="6" height="20.0" fill="#c1e3c2"/><rect x="1366.0" y="785" width="6" height="1" fill="#a9d6aa"/><rect x="1372.0" y="761.1" width="6" height="24.9" fill="#c1e3c2"/><rect x="1372.0" y="785" width="6" height="1" fill="#a9d6aa"/><rect x="1379.0" y="766.0" width="6" height="20.0" fill="#c1e3c2"/><rect x="1379.0" y="785" width="6" height="1" fill="#a9d6aa"/><rect x="1386.0" y="773.1" width="6" height="12.9" fill="#f9bab9"/><rect x="1386.0" y="785" width="6" height="1" fill="#f2a3a2"/><rect x="1392.0" y="771.1" width="6" height="14.9" fill="#f9bab9"/><rect x="1392.0" y="785" width="6" height="1" fill="#f2a3a2"/><rect x="1399.0" y="758.1" width="6" height="27.9" fill="#c1e3c2"/><rect x="1399.0" y="785" width="6" height="1" fill="#a9d6aa"/><rect x="1406.0" y="758.1" width="6" height="27.9" fill="#c1e3c2"/><rect x="1406.0" y="785" width="6" height="1" fill="#a9d6aa"/><rect x="1412.0" y="754.2" width="6" height="31.8" fill="#c1e3c2"/><rect x="1412.0" y="785" width="6" height="1" fill="#a9d6aa"/><rect x="1419.0" y="756.1" width="6" height="29.9" fill="#c1e3c2"/><rect x="1419.0" y="785" width="6" height="1" fill="#a9d6aa"/><rect x="1426.0" y="757.2" width="6" height="28.8" fill="#c1e3c2"/><rect x="1426.0" y="785" width="6" height="1" fill="#a9d6aa"/><rect x="1433.0" y="756.1" width="6" height="29.9" fill="#c1e3c2"/><rect x="1433.0" y="785" width="6" height="1" fill="#a9d6aa"/><rect x="1439.0" y="770.2" width="6" height="15.8" fill="#c1e3c2"/><rect x="1439.0" y="785" width="6" height="1" fill="#a9d6aa"/><rect x="1446.0" y="770.2" width="6" height="15.8" fill="#f9bab9"/><rect x="1446.0" y="785" width="6" height="1" fill="#f2a3a2"/><rect x="1453.0" y="772.0" width="6" height="14.0" fill="#f9bab9"/><rect x="1453.0" y="785" width="6" height="1" fill="#f2a3a2"/><rect x="1459.0" y="766.0" width="6" height="20.0" fill="#c1e3c2"/><rect x="1459.0" y="785" width="6" height="1" fill="#a9d6aa"/><rect x="1466.0" y="773.1" width="6" height="12.9" fill="#f9bab9"/><rect x="1466.0" y="785" width="6" height="1" fill="#f2a3a2"/><rect x="1473.0" y="766.0" width="6" height="20.0" fill="#c1e3c2"/><rect x="1473.0" y="785" width="6" height="1" fill="#a9d6aa"/><rect x="1479.0" y="763.2" width="6" height="22.8" fill="#f9bab9"/><rect x="1479.0" y="785" width="6" height="1" fill="#f2a3a2"/><rect x="1486.0" y="749.1" width="6" height="36.9" fill="#c1e3c2"/><rect x="1486.0" y="785" width="6" height="1" fill="#a9d6aa"/><rect x="1493.0" y="753.0" width="6" height="33.0" fill="#c1e3c2"/><rect x="1493.0" y="785" width="6" height="1" fill="#a9d6aa"/><rect x="1499.0" y="767.1" width="6" height="18.9" fill="#c1e3c2"/><rect x="1499.0" y="785" width="6" height="1" fill="#a9d6aa"/><rect x="1506.0" y="764.1" width="6" height="21.9" fill="#f9bab9"/><rect x="1506.0" y="785" width="6" height="1" fill="#f2a3a2"/><rect x="1513.0" y="765.1" width="6" height="20.9" fill="#c1e3c2"/><rect x="1513.0" y="785" width="6" height="1" fill="#a9d6aa"/><rect x="1519.0" y="764.1" width="6" height="21.9" fill="#c1e3c2"/><rect x="1519.0" y="785" width="6" height="1" fill="#a9d6aa"/><rect x="1526.0" y="757.0" width="6" height="29.0" fill="#f9bab9"/><rect x="1526.0" y="785" width="6" height="1" fill="#f2a3a2"/><rect x="1533.0" y="742.0" width="6" height="44.0" fill="#f9bab9"/><rect x="1533.0" y="785" width="6" height="1" fill="#f2a3a2"/><rect x="1540.0" y="743.0" width="6" height="43.0" fill="#c1e3c2"/><rect x="1540.0" y="785" width="6" height="1" fill="#a9d6aa"/><rect x="1546.0" y="754.1" width="6" height="31.9" fill="#c1e3c2"/><rect x="1546.0" y="785" width="6" height="1" fill="#a9d6aa"/><rect x="1553.0" y="756.0" width="6" height="30.0" fill="#f9bab9"/><rect x="1553.0" y="785" width="6" height="1" fill="#f2a3a2"/><rect x="1560.0" y="722.0" width="6" height="64.0" fill="#f9bab9"/><rect x="1560.0" y="785" width="6" height="1" fill="#f2a3a2"/><rect x="1566.0" y="756.0" width="6" height="30.0" fill="#c1e3c2"/><rect x="1566.0" y="785" width="6" height="1" fill="#a9d6aa"/><rect x="1573.0" y="755.1" width="6" height="30.9" fill="#c1e3c2"/><rect x="1573.0" y="785" width="6" height="1" fill="#a9d6aa"/><rect x="1580.0" y="715.0" width="6" height="71.0" fill="#c1e3c2"/><rect x="1580.0" y="785" width="6" height="1" fill="#a9d6aa"/><rect x="1586.0" y="766.0" width="6" height="20.0" fill="#c1e3c2"/><rect x="1586.0" y="785" width="6" height="1" fill="#a9d6aa"/><rect x="1593.0" y="767.0" width="6" height="19.0" fill="#c1e3c2"/><rect x="1593.0" y="785" width="6" height="1" fill="#a9d6aa"/><rect x="1600.0" y="761.1" width="6" height="24.9" fill="#f9bab9"/><rect x="1600.0" y="785" width="6" height="1" fill="#f2a3a2"/><rect x="1606.0" y="761.1" width="6" height="24.9" fill="#c1e3c2"/><rect x="1606.0" y="785" width="6" height="1" fill="#a9d6aa"/><rect x="1613.0" y="761.1" width="6" height="24.9" fill="#c1e3c2"/><rect x="1613.0" y="785" width="6" height="1" fill="#a9d6aa"/><rect x="1620.0" y="758.0" width="6" height="28.0" fill="#c1e3c2"/><rect x="1620.0" y="785" width="6" height="1" fill="#a9d6aa"/><rect x="1626.0" y="767.0" width="6" height="19.0" fill="#c1e3c2"/><rect x="1626.0" y="785" width="6" height="1" fill="#a9d6aa"/><rect x="1633.0" y="761.1" width="6" height="24.9" fill="#f9bab9"/><rect x="1633.0" y="785" width="6" height="1" fill="#f2a3a2"/><rect x="1640.0" y="770.0" width="6" height="16.0" fill="#f9bab9"/><rect x="1640.0" y="785" width="6" height="1" fill="#f2a3a2"/><rect x="1647.0" y="769.1" width="6" height="16.9" fill="#c1e3c2"/><rect x="1647.0" y="785" width="6" height="1" fill="#a9d6aa"/><rect x="1653.0" y="772.0" width="6" height="14.0" fill="#f9bab9"/><rect x="1653.0" y="785" width="6" height="1" fill="#f2a3a2"/><rect x="1660.0" y="773.1" width="6" height="12.9" fill="#f9bab9"/><rect x="1660.0" y="785" width="6" height="1" fill="#f2a3a2"/><rect x="1667.0" y="773.1" width="6" height="12.9" fill="#c1e3c2"/><rect x="1667.0" y="785" width="6" height="1" fill="#a9d6aa"/><rect x="1673.0" y="771.0" width="6" height="15.0" fill="#c1e3c2"/><rect x="1673.0" y="785" width="6" height="1" fill="#a9d6aa"/><rect x="21" y="786" width="1899" height="2" fill="#cacaca"/><rect x="21" y="816.5" width="1655" height="96" fill="#ecf9fb"/><rect x="21" y="816" width="1655" height="1" fill="#dde6f4"/><rect x="21" y="912" width="1655" height="1" fill="#dde6f4"/><rect x="21" y="863.8" width="1655" height="1.2" fill="#c9c8ea"/><clipPath id="rc"><rect x="21" y="780" width="1700" height="160"/></clipPath><polyline clip-path="url(#rc)" points="17.7,869.9 24.3,861.2 31.0,861.2 37.7,869.1 44.4,861.9 51.1,854.4 57.8,839.9 64.5,818.5 71.2,808.9 77.8,805.7 84.5,803.1 91.2,817.8 97.9,820.6 104.6,829.6 111.3,858.1 118.0,847.7 124.7,843.7 131.3,847.0 138.0,833.0 144.7,833.9 151.4,829.9 158.1,826.3 164.8,823.0 171.5,819.9 178.2,814.9 184.9,818.2 191.5,824.2 198.2,815.4 204.9,809.2 211.6,800.3 218.3,805.4 225.0,805.4 231.7,811.4 238.4,806.4 245.0,803.5 251.7,832.5 258.4,830.9 265.1,831.6 271.8,874.8 278.5,875.8 285.2,868.1 291.9,855.5 298.5,854.1 305.2,837.7 311.9,831.3 318.6,864.1 325.3,849.1 332.0,834.9 338.7,842.4 345.4,835.6 352.1,842.4 358.7,838.7 365.4,848.7 372.1,855.8 378.8,846.7 385.5,859.1 392.2,862.9 398.9,878.3 405.6,879.0 412.2,889.7 418.9,894.7 425.6,882.3 432.3,885.2 439.0,873.8 445.7,875.5 452.4,857.7 459.1,846.3 465.7,854.4 472.4,848.4 479.1,863.4 485.8,871.2 492.5,869.8 499.2,889.0 505.9,911.4 512.6,911.8 519.3,851.5 525.9,861.2 532.6,867.2 539.3,864.8 546.0,852.7 552.7,845.3 559.4,859.1 566.1,845.6 572.8,852.4 579.4,849.5 586.1,855.2 592.8,858.1 599.5,858.7 606.2,873.0 612.9,878.3 619.6,879.0 626.3,881.9 632.9,890.4 639.6,898.0 646.3,898.5 653.0,890.9 659.7,898.3 666.4,895.4 673.1,897.1 679.8,899.0 686.5,897.5 693.1,903.7 699.8,903.7 706.5,894.0 713.2,899.0 719.9,894.4 726.6,906.5 733.3,900.1 740.0,907.5 746.6,910.4 753.3,920.8 760.0,924.2 766.7,900.1 773.4,902.5 780.1,902.5 786.8,906.8 793.5,907.1 800.1,913.6 806.8,908.7 813.5,911.4 820.2,918.2 826.9,901.0 833.6,883.7 840.3,877.6 847.0,885.4 853.7,879.3 860.3,884.7 867.0,874.0 873.7,862.4 880.4,869.5 887.1,855.2 893.8,855.2 900.5,840.6 907.2,853.4 913.8,842.0 920.5,840.1 927.2,841.6 933.9,829.6 940.6,840.6 947.3,829.9 954.0,834.4 960.7,830.9 967.3,855.2 974.0,852.2 980.7,856.2 987.4,860.1 994.1,900.2 1000.8,873.3 1007.5,874.3 1014.2,869.1 1020.9,866.2 1027.5,861.2 1034.2,883.7 1040.9,877.2 1047.6,867.4 1054.3,875.2 1061.0,879.0 1067.7,889.3 1074.4,894.0 1081.0,898.5 1087.7,885.2 1094.4,887.6 1101.1,878.6 1107.8,882.9 1114.5,881.6 1121.2,897.1 1127.9,901.1 1134.5,886.9 1141.2,867.4 1147.9,875.2 1154.6,866.9 1161.3,871.9 1168.0,881.2 1174.7,860.1 1181.4,856.2 1188.1,848.9 1194.7,845.8 1201.4,850.8 1208.1,846.6 1214.8,851.0 1221.5,839.6 1228.2,856.2 1234.9,891.1 1241.6,892.1 1248.2,892.6 1254.9,858.4 1261.6,866.9 1268.3,876.2 1275.0,873.6 1281.7,882.6 1288.4,883.6 1295.1,879.3 1301.7,902.5 1308.4,888.3 1315.1,872.6 1321.8,864.5 1328.5,869.8 1335.2,865.5 1341.9,836.7 1348.6,830.2 1355.3,826.3 1361.9,822.5 1368.6,821.1 1375.3,817.4 1382.0,816.4 1388.7,827.5 1395.4,828.5 1402.1,818.5 1408.8,813.5 1415.4,810.7 1422.1,804.5 1428.8,802.8 1435.5,800.4 1442.2,798.3 1448.9,822.8 1455.6,828.2 1462.3,824.5 1468.9,820.2 1475.6,823.0 1482.3,819.6 1489.0,814.9 1495.7,812.1 1502.4,808.5 1509.1,818.2 1515.8,813.9 1522.5,816.8 1529.1,841.3 1535.8,874.8 1542.5,859.8 1549.2,849.1 1555.9,852.7 1562.6,853.4 1569.3,844.4 1576.0,844.1 1582.6,843.4 1589.3,839.5 1596.0,833.4 1602.7,844.1 1609.4,834.8 1616.1,831.6 1622.8,824.9 1629.5,821.6 1636.1,845.5 1642.8,848.6 1649.5,843.7 1656.2,846.9 1662.9,850.8 1669.6,843.4 1676.3,836.3" fill="none" stroke="#3db3ea" stroke-width="1.2" stroke-linejoin="round"/><text x="1925.2" y="89.4" font-size="11" fill="#707070" text-anchor="end" font-weight="normal" letter-spacing="0.7">233.69</text><text x="1925.2" y="140.5" font-size="11" fill="#707070" text-anchor="end" font-weight="normal" letter-spacing="0.7">215.12</text><text x="1925.2" y="191.6" font-size="11" fill="#707070" text-anchor="end" font-weight="normal" letter-spacing="0.7">198.02</text><text x="1925.2" y="242.6" font-size="11" fill="#707070" text-anchor="end" font-weight="normal" letter-spacing="0.7">182.28</text><text x="1925.2" y="293.7" font-size="11" fill="#707070" text-anchor="end" font-weight="normal" letter-spacing="0.7">167.80</text><text x="1925.2" y="344.8" font-size="11" fill="#707070" text-anchor="end" font-weight="normal" letter-spacing="0.7">154.46</text><text x="1925.2" y="395.9" font-size="11" fill="#707070" text-anchor="end" font-weight="normal" letter-spacing="0.7">142.18</text><text x="1925.2" y="447.0" font-size="11" fill="#707070" text-anchor="end" font-weight="normal" letter-spacing="0.7">130.88</text><text x="1925.2" y="498.0" font-size="11" fill="#707070" text-anchor="end" font-weight="normal" letter-spacing="0.7">120.48</text><text x="1925.2" y="549.1" font-size="11" fill="#707070" text-anchor="end" font-weight="normal" letter-spacing="0.7">110.91</text><text x="1925.2" y="600.2" font-size="11" fill="#707070" text-anchor="end" font-weight="normal" letter-spacing="0.7">102.09</text><text x="1925.2" y="651.3" font-size="11" fill="#707070" text-anchor="end" font-weight="normal" letter-spacing="0.7">93.98</text><text x="1925.2" y="702.4" font-size="11" fill="#707070" text-anchor="end" font-weight="normal" letter-spacing="0.7">86.51</text><text x="1925.2" y="753.4" font-size="11" fill="#707070" text-anchor="end" font-weight="normal" letter-spacing="0.7">79.63</text><text x="1893.5" y="164.1" font-size="11" fill="#8cc98c" text-anchor="end" font-weight="normal" letter-spacing="0.7">1.618</text><text x="1893.5" y="207.2" font-size="11" fill="#8cc98c" text-anchor="end" font-weight="normal" letter-spacing="0.7">1.382</text><text x="1893.5" y="373.2" font-size="11" fill="#8cc98c" text-anchor="end" font-weight="normal" letter-spacing="0.7">0.618</text><text x="1893.5" y="435.1" font-size="11" fill="#8cc98c" text-anchor="end" font-weight="normal" letter-spacing="0.7">0.382</text><text x="1919.8" y="797.5" font-size="11" fill="#707070" text-anchor="end" font-weight="normal" letter-spacing="0.7">80.00</text><text x="1919.8" y="845.7" font-size="11" fill="#707070" text-anchor="end" font-weight="normal" letter-spacing="0.7">60.00</text><text x="1919.8" y="893.9" font-size="11" fill="#707070" text-anchor="end" font-weight="normal" letter-spacing="0.7">40.00</text><text x="1919.8" y="942.1" font-size="11" fill="#707070" text-anchor="end" font-weight="normal" letter-spacing="0.7">20.00</text><rect x="1880" y="257" width="49" height="18.5" rx="2.5" fill="#6a6a6a"/><text x="1905.2" y="270.3" font-size="11" fill="#fff" text-anchor="middle" font-weight="bold" letter-spacing="0.7">175.71</text><rect x="21" y="936.8" width="1899" height="1" fill="#888"/><rect x="49" y="937" width="1" height="9.5" fill="#888"/><text x="50.5" y="956.8" font-size="11" fill="#707070" text-anchor="middle" font-weight="normal" letter-spacing="0.7">22. Jul</text><rect x="116" y="937" width="1" height="9.5" fill="#888"/><text x="117.5" y="956.8" font-size="11" fill="#707070" text-anchor="middle" font-weight="normal" letter-spacing="0.7">5. Aug</text><rect x="183" y="937" width="1" height="9.5" fill="#888"/><text x="184.6" y="956.8" font-size="11" fill="#707070" text-anchor="middle" font-weight="normal" letter-spacing="0.7">19. Aug</text><rect x="249" y="937" width="1" height="9.5" fill="#888"/><text x="250.6" y="956.8" font-size="11" fill="#707070" text-anchor="middle" font-weight="normal" letter-spacing="0.7">2. Sep</text><rect x="310" y="937" width="1" height="9.5" fill="#888"/><text x="311.6" y="956.8" font-size="11" fill="#707070" text-anchor="middle" font-weight="normal" letter-spacing="0.7">16. Sep</text><rect x="377" y="937" width="1" height="9.5" fill="#888"/><text x="378.6" y="956.8" font-size="11" fill="#707070" text-anchor="middle" font-weight="normal" letter-spacing="0.7">30. Sep</text><rect x="444" y="937" width="1" height="9.5" fill="#888"/><text x="445.6" y="956.8" font-size="11" fill="#707070" text-anchor="middle" font-weight="normal" letter-spacing="0.7">14. Oct</text><rect x="511" y="937" width="1" height="9.5" fill="#888"/><text x="512.5" y="956.8" font-size="11" fill="#707070" text-anchor="middle" font-weight="normal" letter-spacing="0.7">28. Oct</text><rect x="578" y="937" width="1" height="9.5" fill="#888"/><text x="579.5" y="956.8" font-size="11" fill="#707070" text-anchor="middle" font-weight="normal" letter-spacing="0.7">11. Nov</text><rect x="645" y="937" width="1" height="9.5" fill="#888"/><text x="646.5" y="956.8" font-size="11" fill="#707070" text-anchor="middle" font-weight="normal" letter-spacing="0.7">25. Nov</text><rect x="705" y="937" width="1" height="9.5" fill="#888"/><text x="706.5" y="956.8" font-size="11" fill="#707070" text-anchor="middle" font-weight="normal" letter-spacing="0.7">9. Dec</text><rect x="772" y="937" width="1" height="9.5" fill="#888"/><text x="774.0" y="956.8" font-size="11" fill="#707070" text-anchor="middle" font-weight="normal" letter-spacing="0.7">23. Dec</text><rect x="825" y="937" width="1" height="9.5" fill="#888"/><text x="826.5" y="956.8" font-size="11" fill="#707070" text-anchor="middle" font-weight="normal" letter-spacing="0.7">6. Jan</text><rect x="884" y="937" width="1" height="9.5" fill="#888"/><text x="886.0" y="956.8" font-size="11" fill="#707070" text-anchor="middle" font-weight="normal" letter-spacing="0.7">20. Jan</text><rect x="945" y="937" width="1" height="9.5" fill="#888"/><text x="946.5" y="956.8" font-size="11" fill="#707070" text-anchor="middle" font-weight="normal" letter-spacing="0.7">3. Feb</text><rect x="1011" y="937" width="1" height="9.5" fill="#888"/><text x="1012.5" y="956.8" font-size="11" fill="#707070" text-anchor="middle" font-weight="normal" letter-spacing="0.7">17. Feb</text><rect x="1073" y="937" width="1" height="9.5" fill="#888"/><text x="1074.5" y="956.8" font-size="11" fill="#707070" text-anchor="middle" font-weight="normal" letter-spacing="0.7">3. Mar</text><rect x="1139" y="937" width="1" height="9.5" fill="#888"/><text x="1140.5" y="956.8" font-size="11" fill="#707070" text-anchor="middle" font-weight="normal" letter-spacing="0.7">17. Mar</text><rect x="1206" y="937" width="1" height="9.5" fill="#888"/><text x="1208.0" y="956.8" font-size="11" fill="#707070" text-anchor="middle" font-weight="normal" letter-spacing="0.7">31. Mar</text><rect x="1273" y="937" width="1" height="9.5" fill="#888"/><text x="1274.8" y="956.8" font-size="11" fill="#707070" text-anchor="middle" font-weight="normal" letter-spacing="0.7">14. Apr</text><rect x="1333" y="937" width="1" height="9.5" fill="#888"/><text x="1334.8" y="956.8" font-size="11" fill="#707070" text-anchor="middle" font-weight="normal" letter-spacing="0.7">28. Apr</text><rect x="1400" y="937" width="1" height="9.5" fill="#888"/><text x="1401.7" y="956.8" font-size="11" fill="#707070" text-anchor="middle" font-weight="normal" letter-spacing="0.7">12. May</text><rect x="1466" y="937" width="1" height="9.5" fill="#888"/><text x="1467.5" y="956.8" font-size="11" fill="#707070" text-anchor="middle" font-weight="normal" letter-spacing="0.7">26. May</text><rect x="1527" y="937" width="1" height="9.5" fill="#888"/><text x="1528.5" y="956.8" font-size="11" fill="#707070" text-anchor="middle" font-weight="normal" letter-spacing="0.7">9. Jun</text><rect x="1587" y="937" width="1" height="9.5" fill="#888"/><text x="1588.5" y="956.8" font-size="11" fill="#707070" text-anchor="middle" font-weight="normal" letter-spacing="0.7">23. Jun</text><rect x="1648" y="937" width="1" height="9.5" fill="#888"/><text x="1649.5" y="956.8" font-size="11" fill="#707070" text-anchor="middle" font-weight="normal" letter-spacing="0.7">7. Jul</text><rect x="1714" y="937" width="1" height="9.5" fill="#888"/><text x="1715.8" y="956.8" font-size="11" fill="#707070" text-anchor="middle" font-weight="normal" letter-spacing="0.7">21. Jul</text><rect x="1781" y="937" width="1" height="9.5" fill="#888"/><text x="1782.5" y="956.8" font-size="11" fill="#707070" text-anchor="middle" font-weight="normal" letter-spacing="0.7">4. Aug</text><rect x="1848" y="937" width="1" height="9.5" fill="#888"/><text x="1849.3" y="956.8" font-size="11" fill="#707070" text-anchor="middle" font-weight="normal" letter-spacing="0.7">18. Aug</text><rect x="1914" y="937" width="1" height="9.5" fill="#888"/><text x="1919.5" y="956.8" font-size="11" fill="#707070" text-anchor="end" font-weight="normal" letter-spacing="0.7">1. Sep</text><text x="1831.4" y="933.9" font-size="11.5" fill="#6a6a6a" text-anchor="start" font-weight="normal" textLength="88.5" lengthAdjust="spacingAndGlyphs">Your local time zone</text><g fill="none" stroke="#3f78b8" stroke-width="1.1"><polyline points="26.9,29.5 29.9,36.7 26.9,44.6" stroke="#3f78b8"/><circle cx="38.3" cy="27.4" r="2.1" fill="#fff"/><circle cx="26.9" cy="29.5" r="2.1" fill="#fff"/><circle cx="34.0" cy="31.8" r="2.1" fill="#fff"/><circle cx="22.4" cy="36.3" r="2.1" fill="#fff"/><circle cx="29.9" cy="36.7" r="2.1" fill="#fff"/><circle cx="35.3" cy="38.9" r="2.1" fill="#fff"/><circle cx="42.2" cy="42.0" r="2.1" fill="#fff"/><circle cx="26.9" cy="44.6" r="2.1" fill="#fff"/></g><text x="50.3" y="42.6" font-size="23.4" fill="#111" text-anchor="start" font-weight="bold" textLength="65.7" lengthAdjust="spacingAndGlyphs">Trend</text><text x="118.3" y="42.6" font-size="23.4" fill="#1a1a1a" text-anchor="start" font-weight="normal" textLength="72.2" lengthAdjust="spacingAndGlyphs" stroke="#fff" stroke-width="0.7">Spider</text><text x="203.2" y="39.9" font-size="12.5" fill="#1e1e1e" text-anchor="start" font-weight="normal" textLength="146.4" lengthAdjust="spacingAndGlyphs">Jul 13, 2025 1:40PM EDT</text><text x="24" y="71.9" font-size="12" fill="#1e1e1e" text-anchor="start" font-weight="normal" textLength="303.6" lengthAdjust="spacingAndGlyphs">THC, Daily, Hollow Candles chart (Logarithmic scale)</text><text x="19.8" y="976.9" font-size="10.3" fill="#111" text-anchor="start" font-weight="normal" textLength="87.1" lengthAdjust="spacingAndGlyphs">&#169;2025 TrendSpider</text></svg></body></html>
